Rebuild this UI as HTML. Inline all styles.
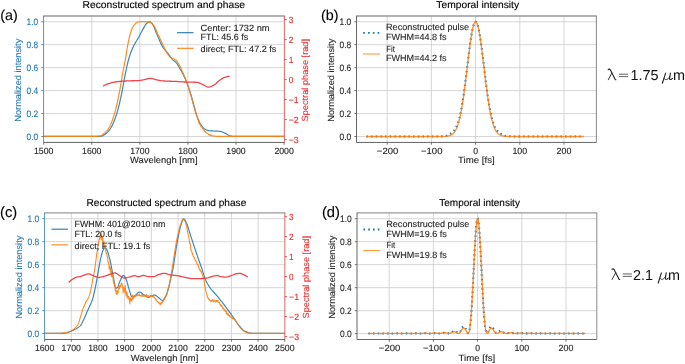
<!DOCTYPE html>
<html><head><meta charset="utf-8"><title>figure</title>
<style>
html,body{margin:0;padding:0;background:#fff;}
body{width:685px;height:364px;overflow:hidden;font-family:"Liberation Sans",sans-serif;}
svg{display:block;will-change:transform;}
svg text{font-family:"Liberation Sans",sans-serif;text-rendering:geometricPrecision;}
</style></head><body>
<svg width="685" height="364" viewBox="0 0 685 364">
<rect width="685" height="364" fill="#fff"/>
<line x1="43.70" y1="16.0" x2="43.70" y2="142.45" stroke="#cccccc" stroke-width="0.8"/>
<line x1="91.78" y1="16.0" x2="91.78" y2="142.45" stroke="#cccccc" stroke-width="0.8"/>
<line x1="139.86" y1="16.0" x2="139.86" y2="142.45" stroke="#cccccc" stroke-width="0.8"/>
<line x1="187.94" y1="16.0" x2="187.94" y2="142.45" stroke="#cccccc" stroke-width="0.8"/>
<line x1="236.02" y1="16.0" x2="236.02" y2="142.45" stroke="#cccccc" stroke-width="0.8"/>
<line x1="284.10" y1="16.0" x2="284.10" y2="142.45" stroke="#cccccc" stroke-width="0.8"/>
<line x1="43.5" y1="136.50" x2="284.5" y2="136.50" stroke="#cccccc" stroke-width="0.8"/>
<line x1="43.5" y1="113.55" x2="284.5" y2="113.55" stroke="#cccccc" stroke-width="0.8"/>
<line x1="43.5" y1="90.60" x2="284.5" y2="90.60" stroke="#cccccc" stroke-width="0.8"/>
<line x1="43.5" y1="67.65" x2="284.5" y2="67.65" stroke="#cccccc" stroke-width="0.8"/>
<line x1="43.5" y1="44.70" x2="284.5" y2="44.70" stroke="#cccccc" stroke-width="0.8"/>
<line x1="43.5" y1="21.75" x2="284.5" y2="21.75" stroke="#cccccc" stroke-width="0.8"/>
<path d="M43.70,136.40 L44.50,136.40 L45.31,136.40 L46.11,136.40 L46.92,136.40 L47.72,136.40 L48.52,136.40 L49.33,136.40 L50.13,136.40 L50.94,136.40 L51.74,136.40 L52.54,136.40 L53.35,136.40 L54.15,136.40 L54.96,136.40 L55.76,136.40 L56.56,136.40 L57.37,136.40 L58.17,136.40 L58.98,136.40 L59.78,136.40 L60.58,136.40 L61.39,136.40 L62.19,136.40 L63.00,136.40 L63.80,136.40 L64.60,136.40 L65.41,136.40 L66.21,136.40 L67.02,136.40 L67.82,136.40 L68.62,136.40 L69.43,136.40 L70.23,136.40 L71.04,136.40 L71.84,136.40 L72.64,136.40 L73.45,136.40 L74.25,136.40 L75.06,136.40 L75.86,136.40 L76.66,136.40 L77.47,136.40 L78.27,136.40 L79.08,136.40 L79.88,136.40 L80.68,136.40 L81.49,136.40 L82.29,136.40 L83.10,136.40 L83.90,136.40 L84.70,136.40 L85.51,136.40 L86.31,136.40 L87.12,136.40 L87.92,136.40 L88.72,136.40 L89.53,136.40 L90.33,136.40 L91.14,136.40 L91.94,136.40 L92.74,136.40 L93.55,136.40 L94.35,136.40 L95.16,136.40 L95.96,136.40 L96.76,136.38 L97.57,136.37 L98.37,136.34 L99.18,136.31 L99.98,136.27 L100.78,136.23 L101.59,136.17 L102.39,135.94 L103.20,135.54 L104.00,135.03 L104.81,134.43 L105.61,133.80 L106.41,133.17 L107.22,132.45 L108.02,131.62 L108.83,130.69 L109.63,129.65 L110.43,128.51 L111.24,127.25 L112.04,125.79 L112.85,124.12 L113.65,122.25 L114.45,120.21 L115.26,118.02 L116.06,115.69 L116.87,113.24 L117.67,110.61 L118.47,107.62 L119.28,104.32 L120.08,100.79 L120.89,97.08 L121.69,93.27 L122.49,89.33 L123.30,84.94 L124.10,80.36 L124.91,75.97 L125.71,72.04 L126.51,68.25 L127.32,64.61 L128.12,61.24 L128.93,58.24 L129.73,55.68 L130.53,53.36 L131.34,51.25 L132.14,49.30 L132.95,47.50 L133.75,45.81 L134.55,44.24 L135.36,42.84 L136.16,41.53 L136.97,40.25 L137.77,38.91 L138.57,37.45 L139.38,35.92 L140.18,34.35 L140.99,32.79 L141.79,31.27 L142.59,29.84 L143.40,28.38 L144.20,26.90 L145.01,25.52 L145.81,24.35 L146.61,23.50 L147.42,22.80 L148.22,22.20 L149.03,21.85 L149.83,21.86 L150.63,22.27 L151.44,22.94 L152.24,23.74 L153.05,24.87 L153.85,26.55 L154.65,28.57 L155.46,30.69 L156.26,32.69 L157.07,34.52 L157.87,36.43 L158.67,38.37 L159.48,40.29 L160.28,42.15 L161.09,43.89 L161.89,45.47 L162.69,46.85 L163.50,48.04 L164.30,49.10 L165.11,50.07 L165.91,51.01 L166.71,51.93 L167.52,52.89 L168.32,53.93 L169.13,55.04 L169.93,56.19 L170.73,57.32 L171.54,58.39 L172.34,59.33 L173.15,60.11 L173.95,60.75 L174.75,61.36 L175.56,62.05 L176.36,62.92 L177.17,63.98 L177.97,65.20 L178.77,66.53 L179.58,67.94 L180.38,69.39 L181.19,70.83 L181.99,72.30 L182.79,73.81 L183.60,75.39 L184.40,77.04 L185.21,78.77 L186.01,80.61 L186.81,82.58 L187.62,84.73 L188.42,87.04 L189.23,89.46 L190.03,91.95 L190.83,94.48 L191.64,97.11 L192.44,99.97 L193.25,103.00 L194.05,106.08 L194.85,109.12 L195.66,112.04 L196.46,114.72 L197.27,117.09 L198.07,119.08 L198.87,120.88 L199.68,122.51 L200.48,123.96 L201.29,125.21 L202.09,126.28 L202.89,127.29 L203.70,128.18 L204.50,128.90 L205.31,129.40 L206.11,129.76 L206.91,130.08 L207.72,130.34 L208.52,130.56 L209.33,130.71 L210.13,130.81 L210.93,130.88 L211.74,130.93 L212.54,130.97 L213.35,131.00 L214.15,131.03 L214.95,131.05 L215.76,131.07 L216.56,131.10 L217.37,131.13 L218.17,131.17 L218.97,131.23 L219.78,131.30 L220.58,131.43 L221.39,131.65 L222.19,131.95 L222.99,132.29 L223.80,132.66 L224.60,133.03 L225.41,133.39 L226.21,133.83 L227.02,134.32 L227.82,134.82 L228.62,135.28 L229.43,135.65 L230.23,135.89 L231.04,136.02 L231.84,136.15 L232.64,136.25 L233.45,136.33 L234.25,136.38 L235.06,136.40 L235.86,136.40 L236.66,136.40 L237.47,136.40 L238.27,136.40 L239.08,136.40 L239.88,136.40 L240.68,136.40 L241.49,136.40 L242.29,136.40 L243.10,136.40 L243.90,136.40 L244.70,136.40 L245.51,136.40 L246.31,136.40 L247.12,136.40 L247.92,136.40 L248.72,136.40 L249.53,136.40 L250.33,136.40 L251.14,136.40 L251.94,136.40 L252.74,136.40 L253.55,136.40 L254.35,136.40 L255.16,136.40 L255.96,136.40 L256.76,136.40 L257.57,136.40 L258.37,136.40 L259.18,136.40 L259.98,136.40 L260.78,136.40 L261.59,136.40 L262.39,136.40 L263.20,136.40 L264.00,136.40 L264.80,136.40 L265.61,136.40 L266.41,136.40 L267.22,136.40 L268.02,136.40 L268.82,136.40 L269.63,136.40 L270.43,136.40 L271.24,136.40 L272.04,136.40 L272.84,136.40 L273.65,136.40 L274.45,136.40 L275.26,136.40 L276.06,136.40 L276.86,136.40 L277.67,136.40 L278.47,136.40 L279.28,136.40 L280.08,136.40 L280.88,136.40 L281.69,136.40 L282.49,136.40 L283.30,136.40 L284.10,136.40" fill="none" stroke="#1f77b4" stroke-width="1.2" stroke-opacity="0.88" stroke-linejoin="round"/>
<path d="M43.70,136.40 L44.27,136.40 L44.85,136.40 L45.42,136.40 L45.99,136.40 L46.57,136.40 L47.14,136.40 L47.72,136.40 L48.29,136.40 L48.86,136.40 L49.44,136.40 L50.01,136.40 L50.58,136.40 L51.16,136.40 L51.73,136.40 L52.31,136.40 L52.88,136.40 L53.45,136.40 L54.03,136.40 L54.60,136.40 L55.17,136.40 L55.75,136.40 L56.32,136.40 L56.90,136.40 L57.47,136.40 L58.04,136.40 L58.62,136.40 L59.19,136.40 L59.76,136.40 L60.34,136.40 L60.91,136.40 L61.49,136.40 L62.06,136.40 L62.63,136.40 L63.21,136.40 L63.78,136.40 L64.35,136.40 L64.93,136.40 L65.50,136.40 L66.08,136.40 L66.65,136.40 L67.22,136.40 L67.80,136.40 L68.37,136.40 L68.94,136.40 L69.52,136.40 L70.09,136.40 L70.67,136.40 L71.24,136.40 L71.81,136.40 L72.39,136.40 L72.96,136.40 L73.53,136.40 L74.11,136.40 L74.68,136.40 L75.26,136.40 L75.83,136.40 L76.40,136.40 L76.98,136.40 L77.55,136.40 L78.12,136.40 L78.70,136.40 L79.27,136.40 L79.85,136.40 L80.42,136.40 L80.99,136.40 L81.57,136.40 L82.14,136.40 L82.71,136.40 L83.29,136.40 L83.86,136.40 L84.44,136.40 L85.01,136.40 L85.58,136.40 L86.16,136.40 L86.73,136.40 L87.30,136.40 L87.88,136.40 L88.45,136.40 L89.03,136.40 L89.60,136.40 L90.17,136.40 L90.75,136.40 L91.32,136.40 L91.89,136.40 L92.47,136.40 L93.04,136.40 L93.62,136.40 L94.19,136.39 L94.76,136.38 L95.34,136.36 L95.91,136.34 L96.48,136.31 L97.06,136.28 L97.63,136.24 L98.21,136.20 L98.78,136.15 L99.35,136.10 L99.93,136.01 L100.50,135.82 L101.07,135.55 L101.65,135.21 L102.22,134.83 L102.80,134.41 L103.37,133.98 L103.94,133.54 L104.52,133.09 L105.09,132.60 L105.66,132.05 L106.24,131.45 L106.81,130.81 L107.39,130.10 L107.96,129.34 L108.53,128.51 L109.11,127.63 L109.68,126.62 L110.25,125.46 L110.83,124.16 L111.40,122.74 L111.98,121.21 L112.55,119.59 L113.12,117.87 L113.70,116.09 L114.27,114.24 L114.84,112.35 L115.42,110.33 L115.99,108.13 L116.57,105.76 L117.14,103.26 L117.71,100.62 L118.29,97.88 L118.86,95.05 L119.43,92.15 L120.01,89.09 L120.58,85.68 L121.16,82.09 L121.73,78.50 L122.30,75.09 L122.88,72.01 L123.45,69.18 L124.02,66.44 L124.60,63.66 L125.17,60.70 L125.75,57.38 L126.32,53.71 L126.89,50.00 L127.47,46.55 L128.04,43.56 L128.61,40.69 L129.19,37.99 L129.76,35.56 L130.34,33.51 L130.91,31.81 L131.48,30.26 L132.06,28.84 L132.63,27.58 L133.20,26.49 L133.78,25.59 L134.35,24.86 L134.93,24.18 L135.50,23.54 L136.07,22.99 L136.65,22.53 L137.22,22.19 L137.79,22.00 L138.37,21.90 L138.94,21.80 L139.52,21.73 L140.09,21.67 L140.66,21.62 L141.24,21.60 L141.81,21.60 L142.38,21.62 L142.96,21.65 L143.53,21.69 L144.11,21.74 L144.68,21.79 L145.25,21.84 L145.83,21.89 L146.40,21.93 L146.97,21.97 L147.55,22.01 L148.12,22.05 L148.70,22.09 L149.27,22.15 L149.84,22.23 L150.42,22.33 L150.99,22.58 L151.56,23.01 L152.14,23.60 L152.71,24.28 L153.29,25.03 L153.86,25.81 L154.43,26.64 L155.01,27.66 L155.58,28.83 L156.15,30.10 L156.73,31.44 L157.30,32.79 L157.88,34.13 L158.45,35.39 L159.02,36.60 L159.60,37.82 L160.17,39.04 L160.74,40.26 L161.32,41.48 L161.89,42.68 L162.47,43.88 L163.04,45.06 L163.61,46.23 L164.19,47.42 L164.76,48.62 L165.33,49.82 L165.91,50.98 L166.48,52.09 L167.06,53.10 L167.63,53.99 L168.20,54.85 L168.78,55.67 L169.35,56.41 L169.92,57.04 L170.50,57.50 L171.07,57.82 L171.65,58.07 L172.22,58.28 L172.79,58.49 L173.37,58.73 L173.94,59.03 L174.51,59.34 L175.09,59.68 L175.66,60.07 L176.24,60.53 L176.81,61.14 L177.38,61.90 L177.96,62.77 L178.53,63.71 L179.10,64.68 L179.68,65.72 L180.25,66.86 L180.83,68.08 L181.40,69.35 L181.97,70.65 L182.55,71.97 L183.12,73.27 L183.69,74.58 L184.27,75.91 L184.84,77.27 L185.42,78.68 L185.99,80.14 L186.56,81.67 L187.14,83.29 L187.71,85.00 L188.28,86.77 L188.86,88.60 L189.43,90.46 L190.01,92.36 L190.58,94.26 L191.15,96.23 L191.73,98.26 L192.30,100.34 L192.87,102.44 L193.45,104.54 L194.02,107.32 L194.60,107.73 L195.17,110.71 L195.74,112.29 L196.32,114.22 L196.89,116.13 L197.46,117.22 L198.04,119.46 L198.61,120.82 L199.19,123.79 L199.76,124.08 L200.33,125.07 L200.91,126.09 L201.48,126.86 L202.05,127.55 L202.63,128.54 L203.20,129.55 L203.78,129.95 L204.35,130.98 L204.92,131.17 L205.50,131.81 L206.07,132.88 L206.64,133.02 L207.22,133.10 L207.79,133.61 L208.37,134.20 L208.94,135.02 L209.51,134.56 L210.09,134.85 L210.66,135.53 L211.23,135.08 L211.81,135.45 L212.38,135.99 L212.96,136.00 L213.53,135.94 L214.10,136.02 L214.68,136.11 L215.25,136.20 L215.82,136.27 L216.40,136.33 L216.97,136.37 L217.55,136.39 L218.12,136.40 L218.69,136.40 L219.27,136.40 L219.84,136.40 L220.41,136.40 L220.99,136.40 L221.56,136.40 L222.14,136.40 L222.71,136.40 L223.28,136.40 L223.86,136.40 L224.43,136.40 L225.00,136.40 L225.58,136.40 L226.15,136.40 L226.73,136.40 L227.30,136.40 L227.87,136.40 L228.45,136.40 L229.02,136.40 L229.59,136.40 L230.17,136.40 L230.74,136.40 L231.32,136.40 L231.89,136.40 L232.46,136.40 L233.04,136.40 L233.61,136.40 L234.18,136.40 L234.76,136.40 L235.33,136.40 L235.91,136.40 L236.48,136.40 L237.05,136.40 L237.63,136.40 L238.20,136.40 L238.77,136.40 L239.35,136.40 L239.92,136.40 L240.50,136.40 L241.07,136.40 L241.64,136.40 L242.22,136.40 L242.79,136.40 L243.36,136.40 L243.94,136.40 L244.51,136.40 L245.09,136.40 L245.66,136.40 L246.23,136.40 L246.81,136.40 L247.38,136.40 L247.95,136.40 L248.53,136.40 L249.10,136.40 L249.68,136.40 L250.25,136.40 L250.82,136.40 L251.40,136.40 L251.97,136.40 L252.54,136.40 L253.12,136.40 L253.69,136.40 L254.27,136.40 L254.84,136.40 L255.41,136.40 L255.99,136.40 L256.56,136.40 L257.13,136.40 L257.71,136.40 L258.28,136.40 L258.86,136.40 L259.43,136.40 L260.00,136.40 L260.58,136.40 L261.15,136.40 L261.72,136.40 L262.30,136.40 L262.87,136.40 L263.45,136.40 L264.02,136.40 L264.59,136.40 L265.17,136.40 L265.74,136.40 L266.31,136.40 L266.89,136.40 L267.46,136.40 L268.04,136.40 L268.61,136.40 L269.18,136.40 L269.76,136.40 L270.33,136.40 L270.90,136.40 L271.48,136.40 L272.05,136.40 L272.63,136.40 L273.20,136.40 L273.77,136.40 L274.35,136.40 L274.92,136.40 L275.49,136.40 L276.07,136.40 L276.64,136.40 L277.22,136.40 L277.79,136.40 L278.36,136.40 L278.94,136.40 L279.51,136.40 L280.08,136.40 L280.66,136.40 L281.23,136.40 L281.81,136.40 L282.38,136.40 L282.95,136.40 L283.53,136.40 L284.10,136.40" fill="none" stroke="#ff7f0e" stroke-width="1.2" stroke-opacity="0.9" stroke-linejoin="round"/>
<path d="M103.20,86.10 L103.99,85.65 L104.79,85.22 L105.58,84.82 L106.38,84.46 L107.17,84.13 L107.97,83.83 L108.76,83.54 L109.56,83.27 L110.35,83.02 L111.15,82.80 L111.94,82.61 L112.74,82.45 L113.53,82.29 L114.33,82.13 L115.12,81.99 L115.92,81.86 L116.71,81.74 L117.51,81.62 L118.30,81.52 L119.10,81.43 L119.89,81.35 L120.69,81.29 L121.48,81.23 L122.28,81.18 L123.07,81.13 L123.87,81.09 L124.66,81.05 L125.46,81.01 L126.25,80.98 L127.05,80.94 L127.84,80.91 L128.64,80.87 L129.43,80.84 L130.23,80.82 L131.02,80.80 L131.82,80.77 L132.61,80.75 L133.41,80.73 L134.20,80.71 L135.00,80.68 L135.79,80.66 L136.59,80.63 L137.38,80.59 L138.18,80.55 L138.97,80.50 L139.77,80.43 L140.56,80.33 L141.36,80.20 L142.15,80.06 L142.95,79.91 L143.74,79.74 L144.54,79.53 L145.33,79.31 L146.13,79.09 L146.92,78.91 L147.72,78.76 L148.51,78.60 L149.31,78.47 L150.10,78.40 L150.90,78.43 L151.69,78.53 L152.49,78.69 L153.28,78.86 L154.08,79.04 L154.87,79.27 L155.67,79.53 L156.46,79.77 L157.26,79.95 L158.05,80.12 L158.85,80.28 L159.64,80.43 L160.44,80.57 L161.23,80.70 L162.03,80.81 L162.82,80.90 L163.62,80.97 L164.41,81.02 L165.21,81.07 L166.00,81.10 L166.80,81.14 L167.59,81.17 L168.39,81.19 L169.18,81.21 L169.98,81.24 L170.77,81.26 L171.57,81.28 L172.36,81.30 L173.16,81.33 L173.95,81.36 L174.75,81.39 L175.54,81.43 L176.34,81.47 L177.13,81.51 L177.93,81.56 L178.72,81.61 L179.52,81.67 L180.31,81.72 L181.11,81.78 L181.90,81.83 L182.70,81.88 L183.49,81.93 L184.29,81.98 L185.08,82.02 L185.88,82.06 L186.67,82.09 L187.47,82.11 L188.26,82.13 L189.06,82.15 L189.85,82.16 L190.65,82.17 L191.44,82.18 L192.24,82.19 L193.03,82.20 L193.83,82.21 L194.62,82.23 L195.42,82.25 L196.21,82.28 L197.01,82.32 L197.80,82.47 L198.60,82.72 L199.39,83.04 L200.19,83.39 L200.98,83.76 L201.78,84.11 L202.57,84.45 L203.37,84.86 L204.16,85.31 L204.96,85.78 L205.75,86.22 L206.55,86.61 L207.34,86.90 L208.14,87.07 L208.93,87.09 L209.73,86.96 L210.52,86.72 L211.32,86.40 L212.11,86.01 L212.91,85.59 L213.70,85.16 L214.50,84.71 L215.29,84.13 L216.09,83.45 L216.88,82.72 L217.68,81.96 L218.47,81.22 L219.27,80.54 L220.06,79.96 L220.86,79.43 L221.65,78.90 L222.45,78.40 L223.24,77.94 L224.04,77.55 L224.83,77.25 L225.63,77.02 L226.42,76.81 L227.22,76.62 L228.01,76.46 L228.81,76.35 L229.60,76.30" fill="none" stroke="#f0353c" stroke-width="1.3" stroke-opacity="0.92" stroke-linejoin="round"/>
<line x1="177" y1="32.7" x2="193.6" y2="32.7" stroke="#1f77b4" stroke-width="1.1"/>
<line x1="177" y1="48.3" x2="193.6" y2="48.3" stroke="#ff7f0e" stroke-width="1.1"/>
<text x="200.6" y="30.7" font-size="9.0" fill="#262626" stroke="#262626" stroke-width="0.12" textLength="69" lengthAdjust="spacingAndGlyphs">Center: 1732 nm</text>
<text x="200.6" y="39.9" font-size="9.0" fill="#262626" stroke="#262626" stroke-width="0.12" textLength="47.5" lengthAdjust="spacingAndGlyphs">FTL: 45.6 fs</text>
<text x="200.6" y="51.8" font-size="9.0" fill="#262626" stroke="#262626" stroke-width="0.12" textLength="75.8" lengthAdjust="spacingAndGlyphs">direct; FTL: 47.2 fs</text>
<line x1="43.1" y1="16.0" x2="284.9" y2="16.0" stroke="#999" stroke-width="1.3"/>
<line x1="43.5" y1="142.45" x2="284.5" y2="142.45" stroke="#555555" stroke-width="0.9"/>
<line x1="43.5" y1="16.0" x2="43.5" y2="142.45" stroke="#1f77b4" stroke-width="0.65"/>
<line x1="284.5" y1="16.0" x2="284.5" y2="142.45" stroke="#ee2c2c" stroke-width="0.6"/>
<line x1="43.70" y1="142.45" x2="43.70" y2="144.75" stroke="#555555" stroke-width="0.8"/>
<text x="43.7" y="153.8" font-size="9.0" fill="#262626" stroke="#262626" stroke-width="0.12" text-anchor="middle" textLength="19.4" lengthAdjust="spacingAndGlyphs">1500</text>
<line x1="91.78" y1="142.45" x2="91.78" y2="144.75" stroke="#555555" stroke-width="0.8"/>
<text x="91.78" y="153.8" font-size="9.0" fill="#262626" stroke="#262626" stroke-width="0.12" text-anchor="middle" textLength="19.4" lengthAdjust="spacingAndGlyphs">1600</text>
<line x1="139.86" y1="142.45" x2="139.86" y2="144.75" stroke="#555555" stroke-width="0.8"/>
<text x="139.86" y="153.8" font-size="9.0" fill="#262626" stroke="#262626" stroke-width="0.12" text-anchor="middle" textLength="19.4" lengthAdjust="spacingAndGlyphs">1700</text>
<line x1="187.94" y1="142.45" x2="187.94" y2="144.75" stroke="#555555" stroke-width="0.8"/>
<text x="187.94" y="153.8" font-size="9.0" fill="#262626" stroke="#262626" stroke-width="0.12" text-anchor="middle" textLength="19.4" lengthAdjust="spacingAndGlyphs">1800</text>
<line x1="236.02" y1="142.45" x2="236.02" y2="144.75" stroke="#555555" stroke-width="0.8"/>
<text x="236.02" y="153.8" font-size="9.0" fill="#262626" stroke="#262626" stroke-width="0.12" text-anchor="middle" textLength="19.4" lengthAdjust="spacingAndGlyphs">1900</text>
<line x1="284.10" y1="142.45" x2="284.10" y2="144.75" stroke="#555555" stroke-width="0.8"/>
<text x="284.1" y="153.8" font-size="9.0" fill="#262626" stroke="#262626" stroke-width="0.12" text-anchor="middle" textLength="19.4" lengthAdjust="spacingAndGlyphs">2000</text>
<line x1="41.3" y1="136.50" x2="43.5" y2="136.50" stroke="#1f77b4" stroke-width="0.8"/>
<text x="38.3" y="140.2" font-size="9.3" fill="#1f77b4" stroke="#1f77b4" stroke-width="0.12" text-anchor="end" textLength="11.7" lengthAdjust="spacingAndGlyphs">0.0</text>
<line x1="41.3" y1="113.55" x2="43.5" y2="113.55" stroke="#1f77b4" stroke-width="0.8"/>
<text x="38.3" y="117.25" font-size="9.3" fill="#1f77b4" stroke="#1f77b4" stroke-width="0.12" text-anchor="end" textLength="11.7" lengthAdjust="spacingAndGlyphs">0.2</text>
<line x1="41.3" y1="90.60" x2="43.5" y2="90.60" stroke="#1f77b4" stroke-width="0.8"/>
<text x="38.3" y="94.3" font-size="9.3" fill="#1f77b4" stroke="#1f77b4" stroke-width="0.12" text-anchor="end" textLength="11.7" lengthAdjust="spacingAndGlyphs">0.4</text>
<line x1="41.3" y1="67.65" x2="43.5" y2="67.65" stroke="#1f77b4" stroke-width="0.8"/>
<text x="38.3" y="71.35" font-size="9.3" fill="#1f77b4" stroke="#1f77b4" stroke-width="0.12" text-anchor="end" textLength="11.7" lengthAdjust="spacingAndGlyphs">0.6</text>
<line x1="41.3" y1="44.70" x2="43.5" y2="44.70" stroke="#1f77b4" stroke-width="0.8"/>
<text x="38.3" y="48.4" font-size="9.3" fill="#1f77b4" stroke="#1f77b4" stroke-width="0.12" text-anchor="end" textLength="11.7" lengthAdjust="spacingAndGlyphs">0.8</text>
<line x1="41.3" y1="21.75" x2="43.5" y2="21.75" stroke="#1f77b4" stroke-width="0.8"/>
<text x="38.3" y="25.45" font-size="9.3" fill="#1f77b4" stroke="#1f77b4" stroke-width="0.12" text-anchor="end" textLength="11.7" lengthAdjust="spacingAndGlyphs">1.0</text>
<line x1="284.5" y1="139.50" x2="286.8" y2="139.50" stroke="#ee2c2c" stroke-width="0.8"/>
<text x="288.7" y="142.8" font-size="9.0" fill="#ee2c2c" stroke="#ee2c2c" stroke-width="0.12" textLength="10.0" lengthAdjust="spacingAndGlyphs">−3</text>
<line x1="284.5" y1="119.52" x2="286.8" y2="119.52" stroke="#ee2c2c" stroke-width="0.8"/>
<text x="288.7" y="122.82" font-size="9.0" fill="#ee2c2c" stroke="#ee2c2c" stroke-width="0.12" textLength="10.0" lengthAdjust="spacingAndGlyphs">−2</text>
<line x1="284.5" y1="99.53" x2="286.8" y2="99.53" stroke="#ee2c2c" stroke-width="0.8"/>
<text x="288.7" y="102.83" font-size="9.0" fill="#ee2c2c" stroke="#ee2c2c" stroke-width="0.12" textLength="10.0" lengthAdjust="spacingAndGlyphs">−1</text>
<line x1="284.5" y1="79.55" x2="286.8" y2="79.55" stroke="#ee2c2c" stroke-width="0.8"/>
<text x="288.7" y="82.85" font-size="9.0" fill="#ee2c2c" stroke="#ee2c2c" stroke-width="0.12" textLength="4.6" lengthAdjust="spacingAndGlyphs">0</text>
<line x1="284.5" y1="59.57" x2="286.8" y2="59.57" stroke="#ee2c2c" stroke-width="0.8"/>
<text x="288.7" y="62.87" font-size="9.0" fill="#ee2c2c" stroke="#ee2c2c" stroke-width="0.12" textLength="4.6" lengthAdjust="spacingAndGlyphs">1</text>
<line x1="284.5" y1="39.58" x2="286.8" y2="39.58" stroke="#ee2c2c" stroke-width="0.8"/>
<text x="288.7" y="42.88" font-size="9.0" fill="#ee2c2c" stroke="#ee2c2c" stroke-width="0.12" textLength="4.6" lengthAdjust="spacingAndGlyphs">2</text>
<line x1="284.5" y1="19.60" x2="286.8" y2="19.60" stroke="#ee2c2c" stroke-width="0.8"/>
<text x="288.7" y="22.9" font-size="9.0" fill="#ee2c2c" stroke="#ee2c2c" stroke-width="0.12" textLength="4.6" lengthAdjust="spacingAndGlyphs">3</text>
<text x="308.2" y="80.22" font-size="8.9" fill="#ee2c2c" stroke="#ee2c2c" stroke-width="0.1" text-anchor="middle" textLength="82.5" lengthAdjust="spacingAndGlyphs" transform="rotate(-90 308.2 80.22)">Spectral phase [rad]</text>
<text x="21.1" y="80.22" font-size="8.9" fill="#1f77b4" stroke="#1f77b4" stroke-width="0.1" text-anchor="middle" textLength="83" lengthAdjust="spacingAndGlyphs" transform="rotate(-90 21.1 80.22)">Normalized intensity</text>
<text x="163.8" y="163.25" font-size="9.0" fill="#262626" stroke="#262626" stroke-width="0.12" text-anchor="middle" textLength="67.5" lengthAdjust="spacingAndGlyphs">Wavelengh [nm]</text>
<text x="163.8" y="7.5" font-size="10.0" fill="#000" stroke="#000" stroke-width="0.12" text-anchor="middle" textLength="162.5" lengthAdjust="spacingAndGlyphs">Reconstructed spectrum and phase</text>
<text x="0.2" y="19.9" font-size="14.3" fill="#000" stroke="#000" stroke-width="0.12">(a)</text>
<line x1="387.20" y1="16.0" x2="387.20" y2="142.45" stroke="#cccccc" stroke-width="0.8"/>
<line x1="431.40" y1="16.0" x2="431.40" y2="142.45" stroke="#cccccc" stroke-width="0.8"/>
<line x1="475.60" y1="16.0" x2="475.60" y2="142.45" stroke="#cccccc" stroke-width="0.8"/>
<line x1="519.80" y1="16.0" x2="519.80" y2="142.45" stroke="#cccccc" stroke-width="0.8"/>
<line x1="564.00" y1="16.0" x2="564.00" y2="142.45" stroke="#cccccc" stroke-width="0.8"/>
<line x1="356.5" y1="136.50" x2="596.4" y2="136.50" stroke="#cccccc" stroke-width="0.8"/>
<line x1="356.5" y1="113.55" x2="596.4" y2="113.55" stroke="#cccccc" stroke-width="0.8"/>
<line x1="356.5" y1="90.60" x2="596.4" y2="90.60" stroke="#cccccc" stroke-width="0.8"/>
<line x1="356.5" y1="67.65" x2="596.4" y2="67.65" stroke="#cccccc" stroke-width="0.8"/>
<line x1="356.5" y1="44.70" x2="596.4" y2="44.70" stroke="#cccccc" stroke-width="0.8"/>
<line x1="356.5" y1="21.75" x2="596.4" y2="21.75" stroke="#cccccc" stroke-width="0.8"/>
<path d="M366.43,136.45 L366.79,136.45 L367.15,136.45 L367.52,136.45 L367.88,136.45 L368.24,136.45 L368.60,136.45 L368.97,136.45 L369.33,136.45 L369.69,136.45 L370.06,136.45 L370.42,136.45 L370.78,136.45 L371.15,136.45 L371.51,136.45 L371.87,136.45 L372.23,136.45 L372.60,136.45 L372.96,136.45 L373.32,136.45 L373.69,136.45 L374.05,136.45 L374.41,136.45 L374.78,136.45 L375.14,136.45 L375.50,136.45 L375.87,136.45 L376.23,136.45 L376.59,136.45 L376.95,136.45 L377.32,136.45 L377.68,136.45 L378.04,136.45 L378.41,136.45 L378.77,136.45 L379.13,136.45 L379.50,136.45 L379.86,136.45 L380.22,136.45 L380.58,136.45 L380.95,136.45 L381.31,136.45 L381.67,136.45 L382.04,136.45 L382.40,136.45 L382.76,136.45 L383.13,136.45 L383.49,136.45 L383.85,136.45 L384.22,136.45 L384.58,136.45 L384.94,136.45 L385.30,136.45 L385.67,136.45 L386.03,136.45 L386.39,136.45 L386.76,136.45 L387.12,136.45 L387.48,136.45 L387.85,136.45 L388.21,136.45 L388.57,136.45 L388.93,136.45 L389.30,136.45 L389.66,136.45 L390.02,136.45 L390.39,136.45 L390.75,136.45 L391.11,136.45 L391.48,136.45 L391.84,136.45 L392.20,136.45 L392.57,136.45 L392.93,136.45 L393.29,136.45 L393.65,136.45 L394.02,136.45 L394.38,136.45 L394.74,136.45 L395.11,136.45 L395.47,136.45 L395.83,136.45 L396.20,136.45 L396.56,136.45 L396.92,136.45 L397.28,136.45 L397.65,136.45 L398.01,136.45 L398.37,136.45 L398.74,136.45 L399.10,136.45 L399.46,136.45 L399.83,136.45 L400.19,136.45 L400.55,136.45 L400.92,136.45 L401.28,136.45 L401.64,136.45 L402.00,136.45 L402.37,136.45 L402.73,136.45 L403.09,136.45 L403.46,136.45 L403.82,136.45 L404.18,136.45 L404.55,136.45 L404.91,136.45 L405.27,136.45 L405.63,136.45 L406.00,136.45 L406.36,136.45 L406.72,136.45 L407.09,136.45 L407.45,136.45 L407.81,136.45 L408.18,136.45 L408.54,136.45 L408.90,136.45 L409.27,136.45 L409.63,136.45 L409.99,136.45 L410.35,136.45 L410.72,136.45 L411.08,136.45 L411.44,136.45 L411.81,136.45 L412.17,136.45 L412.53,136.45 L412.90,136.45 L413.26,136.45 L413.62,136.45 L413.98,136.45 L414.35,136.45 L414.71,136.45 L415.07,136.45 L415.44,136.45 L415.80,136.45 L416.16,136.45 L416.53,136.45 L416.89,136.45 L417.25,136.45 L417.62,136.45 L417.98,136.45 L418.34,136.45 L418.70,136.45 L419.07,136.45 L419.43,136.45 L419.79,136.45 L420.16,136.45 L420.52,136.45 L420.88,136.45 L421.25,136.45 L421.61,136.45 L421.97,136.45 L422.33,136.45 L422.70,136.45 L423.06,136.45 L423.42,136.45 L423.79,136.45 L424.15,136.45 L424.51,136.45 L424.88,136.45 L425.24,136.45 L425.60,136.45 L425.97,136.45 L426.33,136.45 L426.69,136.45 L427.05,136.45 L427.42,136.45 L427.78,136.45 L428.14,136.45 L428.51,136.45 L428.87,136.45 L429.23,136.45 L429.60,136.45 L429.96,136.45 L430.32,136.45 L430.68,136.45 L431.05,136.45 L431.41,136.45 L431.77,136.45 L432.14,136.45 L432.50,136.45 L432.86,136.45 L433.23,136.45 L433.59,136.45 L433.95,136.45 L434.32,136.45 L434.68,136.45 L435.04,136.45 L435.40,136.45 L435.77,136.45 L436.13,136.45 L436.49,136.45 L436.86,136.45 L437.22,136.45 L437.58,136.45 L437.95,136.44 L438.31,136.44 L438.67,136.44 L439.04,136.44 L439.40,136.44 L439.76,136.43 L440.12,136.43 L440.49,136.42 L440.85,136.41 L441.21,136.41 L441.58,136.40 L441.94,136.38 L442.30,136.37 L442.67,136.35 L443.03,136.32 L443.39,136.29 L443.75,136.26 L444.12,136.21 L444.48,136.16 L444.84,136.11 L445.21,136.04 L445.57,135.96 L445.93,135.87 L446.30,135.77 L446.66,135.66 L447.02,135.53 L447.39,135.39 L447.75,135.23 L448.11,135.07 L448.47,134.88 L448.84,134.69 L449.20,134.48 L449.56,134.26 L449.93,134.03 L450.29,133.79 L450.65,133.54 L451.02,133.28 L451.38,133.01 L451.74,132.73 L452.10,132.43 L452.47,132.12 L452.83,131.80 L453.19,131.45 L453.56,131.09 L453.92,130.70 L454.28,130.28 L454.65,129.82 L455.01,129.32 L455.37,128.78 L455.74,128.19 L456.10,127.54 L456.46,126.83 L456.82,126.05 L457.19,125.20 L457.55,124.27 L457.91,123.26 L458.28,122.16 L458.64,120.97 L459.00,119.69 L459.37,118.32 L459.73,116.85 L460.09,115.27 L460.45,113.60 L460.82,111.83 L461.18,109.96 L461.54,107.98 L461.91,105.91 L462.27,103.74 L462.63,101.47 L463.00,99.11 L463.36,96.66 L463.72,94.13 L464.09,91.52 L464.45,88.83 L464.81,86.08 L465.17,83.26 L465.54,80.39 L465.90,77.48 L466.26,74.52 L466.63,71.54 L466.99,68.55 L467.35,65.54 L467.72,62.55 L468.08,59.57 L468.44,56.61 L468.80,53.70 L469.17,50.84 L469.53,48.05 L469.89,45.34 L470.26,42.72 L470.62,40.20 L470.98,37.80 L471.35,35.53 L471.71,33.39 L472.07,31.41 L472.44,29.59 L472.80,27.94 L473.16,26.47 L473.52,25.19 L473.89,24.10 L474.25,23.22 L474.61,22.54 L474.98,22.06 L475.34,21.81 L475.70,21.76 L476.07,21.93 L476.43,22.31 L476.79,22.90 L477.15,23.69 L477.52,24.69 L477.88,25.89 L478.24,27.28 L478.61,28.85 L478.97,30.60 L479.33,32.51 L479.70,34.58 L480.06,36.79 L480.42,39.14 L480.79,41.61 L481.15,44.19 L481.51,46.86 L481.87,49.62 L482.24,52.45 L482.60,55.34 L482.96,58.28 L483.33,61.25 L483.69,64.24 L484.05,67.24 L484.42,70.24 L484.78,73.23 L485.14,76.20 L485.50,79.13 L485.87,82.02 L486.23,84.86 L486.59,87.64 L486.96,90.36 L487.32,93.01 L487.68,95.57 L488.05,98.06 L488.41,100.46 L488.77,102.76 L489.14,104.98 L489.50,107.09 L489.86,109.11 L490.22,111.03 L490.59,112.84 L490.95,114.56 L491.31,116.17 L491.68,117.69 L492.04,119.11 L492.40,120.43 L492.77,121.66 L493.13,122.79 L493.49,123.84 L493.85,124.80 L494.22,125.69 L494.58,126.50 L494.94,127.24 L495.31,127.91 L495.67,128.53 L496.03,129.09 L496.40,129.61 L496.76,130.08 L497.12,130.52 L497.49,130.92 L497.85,131.30 L498.21,131.65 L498.57,131.98 L498.94,132.30 L499.30,132.60 L499.66,132.89 L500.03,133.16 L500.39,133.43 L500.75,133.69 L501.12,133.93 L501.48,134.17 L501.84,134.39 L502.20,134.60 L502.57,134.80 L502.93,134.99 L503.29,135.16 L503.66,135.32 L504.02,135.47 L504.38,135.60 L504.75,135.72 L505.11,135.83 L505.47,135.92 L505.84,136.01 L506.20,136.08 L506.56,136.14 L506.92,136.19 L507.29,136.24 L507.65,136.28 L508.01,136.31 L508.38,136.34 L508.74,136.36 L509.10,136.38 L509.47,136.39 L509.83,136.40 L510.19,136.41 L510.55,136.42 L510.92,136.43 L511.28,136.43 L511.64,136.43 L512.01,136.44 L512.37,136.44 L512.73,136.44 L513.10,136.44 L513.46,136.44 L513.82,136.45 L514.19,136.45 L514.55,136.45 L514.91,136.45 L515.27,136.45 L515.64,136.45 L516.00,136.45 L516.36,136.45 L516.73,136.45 L517.09,136.45 L517.45,136.45 L517.82,136.45 L518.18,136.45 L518.54,136.45 L518.90,136.45 L519.27,136.45 L519.63,136.45 L519.99,136.45 L520.36,136.45 L520.72,136.45 L521.08,136.45 L521.45,136.45 L521.81,136.45 L522.17,136.45 L522.54,136.45 L522.90,136.45 L523.26,136.45 L523.62,136.45 L523.99,136.45 L524.35,136.45 L524.71,136.45 L525.08,136.45 L525.44,136.45 L525.80,136.45 L526.17,136.45 L526.53,136.45 L526.89,136.45 L527.25,136.45 L527.62,136.45 L527.98,136.45 L528.34,136.45 L528.71,136.45 L529.07,136.45 L529.43,136.45 L529.80,136.45 L530.16,136.45 L530.52,136.45 L530.89,136.45 L531.25,136.45 L531.61,136.45 L531.97,136.45 L532.34,136.45 L532.70,136.45 L533.06,136.45 L533.43,136.45 L533.79,136.45 L534.15,136.45 L534.52,136.45 L534.88,136.45 L535.24,136.45 L535.61,136.45 L535.97,136.45 L536.33,136.45 L536.69,136.45 L537.06,136.45 L537.42,136.45 L537.78,136.45 L538.15,136.45 L538.51,136.45 L538.87,136.45 L539.24,136.45 L539.60,136.45 L539.96,136.45 L540.32,136.45 L540.69,136.45 L541.05,136.45 L541.41,136.45 L541.78,136.45 L542.14,136.45 L542.50,136.45 L542.87,136.45 L543.23,136.45 L543.59,136.45 L543.96,136.45 L544.32,136.45 L544.68,136.45 L545.04,136.45 L545.41,136.45 L545.77,136.45 L546.13,136.45 L546.50,136.45 L546.86,136.45 L547.22,136.45 L547.59,136.45 L547.95,136.45 L548.31,136.45 L548.67,136.45 L549.04,136.45 L549.40,136.45 L549.76,136.45 L550.13,136.45 L550.49,136.45 L550.85,136.45 L551.22,136.45 L551.58,136.45 L551.94,136.45 L552.31,136.45 L552.67,136.45 L553.03,136.45 L553.39,136.45 L553.76,136.45 L554.12,136.45 L554.48,136.45 L554.85,136.45 L555.21,136.45 L555.57,136.45 L555.94,136.45 L556.30,136.45 L556.66,136.45 L557.02,136.45 L557.39,136.45 L557.75,136.45 L558.11,136.45 L558.48,136.45 L558.84,136.45 L559.20,136.45 L559.57,136.45 L559.93,136.45 L560.29,136.45 L560.66,136.45 L561.02,136.45 L561.38,136.45 L561.74,136.45 L562.11,136.45 L562.47,136.45 L562.83,136.45 L563.20,136.45 L563.56,136.45 L563.92,136.45 L564.29,136.45 L564.65,136.45 L565.01,136.45 L565.37,136.45 L565.74,136.45 L566.10,136.45 L566.46,136.45 L566.83,136.45 L567.19,136.45 L567.55,136.45 L567.92,136.45 L568.28,136.45 L568.64,136.45 L569.01,136.45 L569.37,136.45 L569.73,136.45 L570.09,136.45 L570.46,136.45 L570.82,136.45 L571.18,136.45 L571.55,136.45 L571.91,136.45 L572.27,136.45 L572.64,136.45 L573.00,136.45 L573.36,136.45 L573.72,136.45 L574.09,136.45 L574.45,136.45 L574.81,136.45 L575.18,136.45 L575.54,136.45 L575.90,136.45 L576.27,136.45 L576.63,136.45 L576.99,136.45 L577.36,136.45 L577.72,136.45 L578.08,136.45 L578.44,136.45 L578.81,136.45 L579.17,136.45 L579.53,136.45 L579.90,136.45 L580.26,136.45 L580.62,136.45 L580.99,136.45 L581.35,136.45 L581.71,136.45 L582.07,136.45 L582.44,136.45 L582.80,136.45 L583.16,136.45 L583.53,136.45 L583.89,136.45" fill="none" stroke="#1f77b4" stroke-width="2.1" stroke-dasharray="1.5 3.17"/>
<path d="M366.43,136.45 L366.79,136.45 L367.15,136.45 L367.52,136.45 L367.88,136.45 L368.24,136.45 L368.60,136.45 L368.97,136.45 L369.33,136.45 L369.69,136.45 L370.06,136.45 L370.42,136.45 L370.78,136.45 L371.15,136.45 L371.51,136.45 L371.87,136.45 L372.23,136.45 L372.60,136.45 L372.96,136.45 L373.32,136.45 L373.69,136.45 L374.05,136.45 L374.41,136.45 L374.78,136.45 L375.14,136.45 L375.50,136.45 L375.87,136.45 L376.23,136.45 L376.59,136.45 L376.95,136.45 L377.32,136.45 L377.68,136.45 L378.04,136.45 L378.41,136.45 L378.77,136.45 L379.13,136.45 L379.50,136.45 L379.86,136.45 L380.22,136.45 L380.58,136.45 L380.95,136.45 L381.31,136.45 L381.67,136.45 L382.04,136.45 L382.40,136.45 L382.76,136.45 L383.13,136.45 L383.49,136.45 L383.85,136.45 L384.22,136.45 L384.58,136.45 L384.94,136.45 L385.30,136.45 L385.67,136.45 L386.03,136.45 L386.39,136.45 L386.76,136.45 L387.12,136.45 L387.48,136.45 L387.85,136.45 L388.21,136.45 L388.57,136.45 L388.93,136.45 L389.30,136.45 L389.66,136.45 L390.02,136.45 L390.39,136.45 L390.75,136.45 L391.11,136.45 L391.48,136.45 L391.84,136.45 L392.20,136.45 L392.57,136.45 L392.93,136.45 L393.29,136.45 L393.65,136.45 L394.02,136.45 L394.38,136.45 L394.74,136.45 L395.11,136.45 L395.47,136.45 L395.83,136.45 L396.20,136.45 L396.56,136.45 L396.92,136.45 L397.28,136.45 L397.65,136.45 L398.01,136.45 L398.37,136.45 L398.74,136.45 L399.10,136.45 L399.46,136.45 L399.83,136.45 L400.19,136.45 L400.55,136.45 L400.92,136.45 L401.28,136.45 L401.64,136.45 L402.00,136.45 L402.37,136.45 L402.73,136.45 L403.09,136.45 L403.46,136.45 L403.82,136.45 L404.18,136.45 L404.55,136.45 L404.91,136.45 L405.27,136.45 L405.63,136.45 L406.00,136.45 L406.36,136.45 L406.72,136.45 L407.09,136.45 L407.45,136.45 L407.81,136.45 L408.18,136.45 L408.54,136.45 L408.90,136.45 L409.27,136.45 L409.63,136.45 L409.99,136.45 L410.35,136.45 L410.72,136.45 L411.08,136.45 L411.44,136.45 L411.81,136.45 L412.17,136.45 L412.53,136.45 L412.90,136.45 L413.26,136.45 L413.62,136.45 L413.98,136.45 L414.35,136.45 L414.71,136.45 L415.07,136.45 L415.44,136.45 L415.80,136.45 L416.16,136.45 L416.53,136.45 L416.89,136.45 L417.25,136.45 L417.62,136.45 L417.98,136.45 L418.34,136.45 L418.70,136.45 L419.07,136.45 L419.43,136.45 L419.79,136.45 L420.16,136.45 L420.52,136.45 L420.88,136.45 L421.25,136.45 L421.61,136.45 L421.97,136.45 L422.33,136.45 L422.70,136.45 L423.06,136.45 L423.42,136.45 L423.79,136.45 L424.15,136.45 L424.51,136.45 L424.88,136.45 L425.24,136.45 L425.60,136.45 L425.97,136.45 L426.33,136.45 L426.69,136.45 L427.05,136.45 L427.42,136.45 L427.78,136.45 L428.14,136.45 L428.51,136.45 L428.87,136.45 L429.23,136.45 L429.60,136.45 L429.96,136.45 L430.32,136.45 L430.68,136.45 L431.05,136.45 L431.41,136.45 L431.77,136.45 L432.14,136.45 L432.50,136.45 L432.86,136.45 L433.23,136.45 L433.59,136.45 L433.95,136.45 L434.32,136.45 L434.68,136.45 L435.04,136.45 L435.40,136.45 L435.77,136.45 L436.13,136.45 L436.49,136.45 L436.86,136.45 L437.22,136.45 L437.58,136.45 L437.95,136.45 L438.31,136.45 L438.67,136.44 L439.04,136.44 L439.40,136.44 L439.76,136.44 L440.12,136.44 L440.49,136.44 L440.85,136.43 L441.21,136.43 L441.58,136.42 L441.94,136.42 L442.30,136.41 L442.67,136.41 L443.03,136.40 L443.39,136.39 L443.75,136.38 L444.12,136.36 L444.48,136.35 L444.84,136.33 L445.21,136.31 L445.57,136.29 L445.93,136.26 L446.30,136.23 L446.66,136.19 L447.02,136.15 L447.39,136.10 L447.75,136.04 L448.11,135.98 L448.47,135.90 L448.84,135.82 L449.20,135.72 L449.56,135.62 L449.93,135.49 L450.29,135.36 L450.65,135.20 L451.02,135.03 L451.38,134.83 L451.74,134.61 L452.10,134.37 L452.47,134.10 L452.83,133.80 L453.19,133.46 L453.56,133.09 L453.92,132.68 L454.28,132.22 L454.65,131.73 L455.01,131.18 L455.37,130.58 L455.74,129.92 L456.10,129.21 L456.46,128.43 L456.82,127.59 L457.19,126.68 L457.55,125.69 L457.91,124.63 L458.28,123.49 L458.64,122.26 L459.00,120.95 L459.37,119.54 L459.73,118.05 L460.09,116.46 L460.45,114.78 L460.82,113.00 L461.18,111.12 L461.54,109.15 L461.91,107.07 L462.27,104.90 L462.63,102.64 L463.00,100.28 L463.36,97.83 L463.72,95.29 L464.09,92.67 L464.45,89.98 L464.81,87.21 L465.17,84.37 L465.54,81.48 L465.90,78.54 L466.26,75.56 L466.63,72.55 L466.99,69.51 L467.35,66.47 L467.72,63.43 L468.08,60.40 L468.44,57.40 L468.80,54.44 L469.17,51.53 L469.53,48.68 L469.89,45.91 L470.26,43.23 L470.62,40.66 L470.98,38.20 L471.35,35.88 L471.71,33.70 L472.07,31.67 L472.44,29.80 L472.80,28.11 L473.16,26.60 L473.52,25.28 L473.89,24.17 L474.25,23.26 L474.61,22.56 L474.98,22.07 L475.34,21.81 L475.70,21.76 L476.07,21.93 L476.43,22.32 L476.79,22.93 L477.15,23.75 L477.52,24.77 L477.88,26.00 L478.24,27.43 L478.61,29.04 L478.97,30.83 L479.33,32.79 L479.70,34.91 L480.06,37.18 L480.42,39.58 L480.79,42.10 L481.15,44.73 L481.51,47.46 L481.87,50.28 L482.24,53.16 L482.60,56.11 L482.96,59.09 L483.33,62.11 L483.69,65.15 L484.05,68.19 L484.42,71.23 L484.78,74.25 L485.14,77.25 L485.50,80.21 L485.87,83.12 L486.23,85.98 L486.59,88.78 L486.96,91.51 L487.32,94.16 L487.68,96.74 L488.05,99.22 L488.41,101.62 L488.77,103.93 L489.14,106.14 L489.50,108.26 L489.86,110.27 L490.22,112.19 L490.59,114.02 L490.95,115.74 L491.31,117.37 L491.68,118.90 L492.04,120.35 L492.40,121.70 L492.77,122.96 L493.13,124.14 L493.49,125.24 L493.85,126.26 L494.22,127.20 L494.58,128.08 L494.94,128.88 L495.31,129.62 L495.67,130.30 L496.03,130.92 L496.40,131.49 L496.76,132.01 L497.12,132.49 L497.49,132.91 L497.85,133.30 L498.21,133.65 L498.57,133.97 L498.94,134.26 L499.30,134.51 L499.66,134.74 L500.03,134.95 L500.39,135.13 L500.75,135.29 L501.12,135.44 L501.48,135.57 L501.84,135.68 L502.20,135.78 L502.57,135.87 L502.93,135.95 L503.29,136.01 L503.66,136.07 L504.02,136.13 L504.38,136.17 L504.75,136.21 L505.11,136.24 L505.47,136.27 L505.84,136.30 L506.20,136.32 L506.56,136.34 L506.92,136.36 L507.29,136.37 L507.65,136.38 L508.01,136.39 L508.38,136.40 L508.74,136.41 L509.10,136.42 L509.47,136.42 L509.83,136.43 L510.19,136.43 L510.55,136.43 L510.92,136.44 L511.28,136.44 L511.64,136.44 L512.01,136.44 L512.37,136.44 L512.73,136.44 L513.10,136.45 L513.46,136.45 L513.82,136.45 L514.19,136.45 L514.55,136.45 L514.91,136.45 L515.27,136.45 L515.64,136.45 L516.00,136.45 L516.36,136.45 L516.73,136.45 L517.09,136.45 L517.45,136.45 L517.82,136.45 L518.18,136.45 L518.54,136.45 L518.90,136.45 L519.27,136.45 L519.63,136.45 L519.99,136.45 L520.36,136.45 L520.72,136.45 L521.08,136.45 L521.45,136.45 L521.81,136.45 L522.17,136.45 L522.54,136.45 L522.90,136.45 L523.26,136.45 L523.62,136.45 L523.99,136.45 L524.35,136.45 L524.71,136.45 L525.08,136.45 L525.44,136.45 L525.80,136.45 L526.17,136.45 L526.53,136.45 L526.89,136.45 L527.25,136.45 L527.62,136.45 L527.98,136.45 L528.34,136.45 L528.71,136.45 L529.07,136.45 L529.43,136.45 L529.80,136.45 L530.16,136.45 L530.52,136.45 L530.89,136.45 L531.25,136.45 L531.61,136.45 L531.97,136.45 L532.34,136.45 L532.70,136.45 L533.06,136.45 L533.43,136.45 L533.79,136.45 L534.15,136.45 L534.52,136.45 L534.88,136.45 L535.24,136.45 L535.61,136.45 L535.97,136.45 L536.33,136.45 L536.69,136.45 L537.06,136.45 L537.42,136.45 L537.78,136.45 L538.15,136.45 L538.51,136.45 L538.87,136.45 L539.24,136.45 L539.60,136.45 L539.96,136.45 L540.32,136.45 L540.69,136.45 L541.05,136.45 L541.41,136.45 L541.78,136.45 L542.14,136.45 L542.50,136.45 L542.87,136.45 L543.23,136.45 L543.59,136.45 L543.96,136.45 L544.32,136.45 L544.68,136.45 L545.04,136.45 L545.41,136.45 L545.77,136.45 L546.13,136.45 L546.50,136.45 L546.86,136.45 L547.22,136.45 L547.59,136.45 L547.95,136.45 L548.31,136.45 L548.67,136.45 L549.04,136.45 L549.40,136.45 L549.76,136.45 L550.13,136.45 L550.49,136.45 L550.85,136.45 L551.22,136.45 L551.58,136.45 L551.94,136.45 L552.31,136.45 L552.67,136.45 L553.03,136.45 L553.39,136.45 L553.76,136.45 L554.12,136.45 L554.48,136.45 L554.85,136.45 L555.21,136.45 L555.57,136.45 L555.94,136.45 L556.30,136.45 L556.66,136.45 L557.02,136.45 L557.39,136.45 L557.75,136.45 L558.11,136.45 L558.48,136.45 L558.84,136.45 L559.20,136.45 L559.57,136.45 L559.93,136.45 L560.29,136.45 L560.66,136.45 L561.02,136.45 L561.38,136.45 L561.74,136.45 L562.11,136.45 L562.47,136.45 L562.83,136.45 L563.20,136.45 L563.56,136.45 L563.92,136.45 L564.29,136.45 L564.65,136.45 L565.01,136.45 L565.37,136.45 L565.74,136.45 L566.10,136.45 L566.46,136.45 L566.83,136.45 L567.19,136.45 L567.55,136.45 L567.92,136.45 L568.28,136.45 L568.64,136.45 L569.01,136.45 L569.37,136.45 L569.73,136.45 L570.09,136.45 L570.46,136.45 L570.82,136.45 L571.18,136.45 L571.55,136.45 L571.91,136.45 L572.27,136.45 L572.64,136.45 L573.00,136.45 L573.36,136.45 L573.72,136.45 L574.09,136.45 L574.45,136.45 L574.81,136.45 L575.18,136.45 L575.54,136.45 L575.90,136.45 L576.27,136.45 L576.63,136.45 L576.99,136.45 L577.36,136.45 L577.72,136.45 L578.08,136.45 L578.44,136.45 L578.81,136.45 L579.17,136.45 L579.53,136.45 L579.90,136.45 L580.26,136.45 L580.62,136.45 L580.99,136.45 L581.35,136.45 L581.71,136.45 L582.07,136.45 L582.44,136.45 L582.80,136.45 L583.16,136.45 L583.53,136.45 L583.89,136.45" fill="none" stroke="#ff7f0e" stroke-width="1.35" stroke-opacity="0.85"/>
<line x1="363.2" y1="32.9" x2="380" y2="32.9" stroke="#1f77b4" stroke-width="1.8" stroke-dasharray="1.7 3.1"/>
<line x1="363" y1="54.0" x2="380" y2="54.0" stroke="#ff7f0e" stroke-width="1.1" stroke-opacity="0.8"/>
<text x="386.0" y="30.1" font-size="9.0" fill="#262626" stroke="#262626" stroke-width="0.12" textLength="83.2" lengthAdjust="spacingAndGlyphs">Reconstructed pulse</text>
<text x="386.0" y="39.6" font-size="9.0" fill="#262626" stroke="#262626" stroke-width="0.12" textLength="60.6" lengthAdjust="spacingAndGlyphs">FWHM=44.8 fs</text>
<text x="386.3" y="51.8" font-size="9.0" fill="#262626" stroke="#262626" stroke-width="0.12" textLength="8.6" lengthAdjust="spacingAndGlyphs">Fit</text>
<text x="386.0" y="60.9" font-size="9.0" fill="#262626" stroke="#262626" stroke-width="0.12" textLength="60.6" lengthAdjust="spacingAndGlyphs">FWHM=44.2 fs</text>
<line x1="356.1" y1="16.0" x2="596.8" y2="16.0" stroke="#999" stroke-width="1.3"/>
<line x1="356.5" y1="142.45" x2="596.4" y2="142.45" stroke="#555555" stroke-width="0.9"/>
<line x1="356.5" y1="16.0" x2="356.5" y2="142.45" stroke="#555555" stroke-width="0.9"/>
<line x1="596.4" y1="16.0" x2="596.4" y2="142.45" stroke="#7a7a7a" stroke-width="0.9"/>
<line x1="387.20" y1="142.45" x2="387.20" y2="144.75" stroke="#555555" stroke-width="0.8"/>
<text x="387.55" y="153.8" font-size="9.0" fill="#262626" stroke="#262626" stroke-width="0.12" text-anchor="middle" textLength="21.4" lengthAdjust="spacingAndGlyphs">−200</text>
<line x1="431.40" y1="142.45" x2="431.40" y2="144.75" stroke="#555555" stroke-width="0.8"/>
<text x="431.75" y="153.8" font-size="9.0" fill="#262626" stroke="#262626" stroke-width="0.12" text-anchor="middle" textLength="21.4" lengthAdjust="spacingAndGlyphs">−100</text>
<line x1="475.60" y1="142.45" x2="475.60" y2="144.75" stroke="#555555" stroke-width="0.8"/>
<text x="475.6" y="153.8" font-size="9.0" fill="#262626" stroke="#262626" stroke-width="0.12" text-anchor="middle" textLength="4.8" lengthAdjust="spacingAndGlyphs">0</text>
<line x1="519.80" y1="142.45" x2="519.80" y2="144.75" stroke="#555555" stroke-width="0.8"/>
<text x="519.8" y="153.8" font-size="9.0" fill="#262626" stroke="#262626" stroke-width="0.12" text-anchor="middle" textLength="14.8" lengthAdjust="spacingAndGlyphs">100</text>
<line x1="564.00" y1="142.45" x2="564.00" y2="144.75" stroke="#555555" stroke-width="0.8"/>
<text x="564.0" y="153.8" font-size="9.0" fill="#262626" stroke="#262626" stroke-width="0.12" text-anchor="middle" textLength="14.8" lengthAdjust="spacingAndGlyphs">200</text>
<line x1="354.3" y1="136.50" x2="356.5" y2="136.50" stroke="#555555" stroke-width="0.8"/>
<text x="351.3" y="140.2" font-size="9.3" fill="#262626" stroke="#262626" stroke-width="0.12" text-anchor="end" textLength="11.7" lengthAdjust="spacingAndGlyphs">0.0</text>
<line x1="354.3" y1="113.55" x2="356.5" y2="113.55" stroke="#555555" stroke-width="0.8"/>
<text x="351.3" y="117.25" font-size="9.3" fill="#262626" stroke="#262626" stroke-width="0.12" text-anchor="end" textLength="11.7" lengthAdjust="spacingAndGlyphs">0.2</text>
<line x1="354.3" y1="90.60" x2="356.5" y2="90.60" stroke="#555555" stroke-width="0.8"/>
<text x="351.3" y="94.3" font-size="9.3" fill="#262626" stroke="#262626" stroke-width="0.12" text-anchor="end" textLength="11.7" lengthAdjust="spacingAndGlyphs">0.4</text>
<line x1="354.3" y1="67.65" x2="356.5" y2="67.65" stroke="#555555" stroke-width="0.8"/>
<text x="351.3" y="71.35" font-size="9.3" fill="#262626" stroke="#262626" stroke-width="0.12" text-anchor="end" textLength="11.7" lengthAdjust="spacingAndGlyphs">0.6</text>
<line x1="354.3" y1="44.70" x2="356.5" y2="44.70" stroke="#555555" stroke-width="0.8"/>
<text x="351.3" y="48.4" font-size="9.3" fill="#262626" stroke="#262626" stroke-width="0.12" text-anchor="end" textLength="11.7" lengthAdjust="spacingAndGlyphs">0.8</text>
<line x1="354.3" y1="21.75" x2="356.5" y2="21.75" stroke="#555555" stroke-width="0.8"/>
<text x="351.3" y="25.45" font-size="9.3" fill="#262626" stroke="#262626" stroke-width="0.12" text-anchor="end" textLength="11.7" lengthAdjust="spacingAndGlyphs">1.0</text>
<text x="334.1" y="80.22" font-size="8.9" fill="#262626" stroke="#262626" stroke-width="0.1" text-anchor="middle" textLength="83" lengthAdjust="spacingAndGlyphs" transform="rotate(-90 334.1 80.22)">Normalized intensity</text>
<text x="476.4" y="163.25" font-size="9.0" fill="#262626" stroke="#262626" stroke-width="0.12" text-anchor="middle" textLength="36.6" lengthAdjust="spacingAndGlyphs">Time [fs]</text>
<text x="477.7" y="7.5" font-size="10.0" fill="#000" stroke="#000" stroke-width="0.12" text-anchor="middle" textLength="82.7" lengthAdjust="spacingAndGlyphs">Temporal intensity</text>
<text x="321.1" y="19.9" font-size="14.3" fill="#000" stroke="#000" stroke-width="0.12">(b)</text>
<line x1="44.60" y1="212.9" x2="44.60" y2="339.5" stroke="#cccccc" stroke-width="0.8"/>
<line x1="71.29" y1="212.9" x2="71.29" y2="339.5" stroke="#cccccc" stroke-width="0.8"/>
<line x1="97.98" y1="212.9" x2="97.98" y2="339.5" stroke="#cccccc" stroke-width="0.8"/>
<line x1="124.67" y1="212.9" x2="124.67" y2="339.5" stroke="#cccccc" stroke-width="0.8"/>
<line x1="151.36" y1="212.9" x2="151.36" y2="339.5" stroke="#cccccc" stroke-width="0.8"/>
<line x1="178.05" y1="212.9" x2="178.05" y2="339.5" stroke="#cccccc" stroke-width="0.8"/>
<line x1="204.74" y1="212.9" x2="204.74" y2="339.5" stroke="#cccccc" stroke-width="0.8"/>
<line x1="231.43" y1="212.9" x2="231.43" y2="339.5" stroke="#cccccc" stroke-width="0.8"/>
<line x1="258.12" y1="212.9" x2="258.12" y2="339.5" stroke="#cccccc" stroke-width="0.8"/>
<line x1="284.81" y1="212.9" x2="284.81" y2="339.5" stroke="#cccccc" stroke-width="0.8"/>
<line x1="44.5" y1="333.65" x2="284.9" y2="333.65" stroke="#cccccc" stroke-width="0.8"/>
<line x1="44.5" y1="310.66" x2="284.9" y2="310.66" stroke="#cccccc" stroke-width="0.8"/>
<line x1="44.5" y1="287.67" x2="284.9" y2="287.67" stroke="#cccccc" stroke-width="0.8"/>
<line x1="44.5" y1="264.68" x2="284.9" y2="264.68" stroke="#cccccc" stroke-width="0.8"/>
<line x1="44.5" y1="241.69" x2="284.9" y2="241.69" stroke="#cccccc" stroke-width="0.8"/>
<line x1="44.5" y1="218.70" x2="284.9" y2="218.70" stroke="#cccccc" stroke-width="0.8"/>
<path d="M44.60,333.40 L45.17,333.40 L45.75,333.40 L46.32,333.40 L46.89,333.40 L47.47,333.40 L48.04,333.40 L48.61,333.40 L49.19,333.40 L49.76,333.40 L50.33,333.40 L50.91,333.40 L51.48,333.40 L52.05,333.40 L52.63,333.40 L53.20,333.40 L53.77,333.40 L54.35,333.40 L54.92,333.40 L55.49,333.40 L56.07,333.40 L56.64,333.40 L57.21,333.40 L57.79,333.40 L58.36,333.40 L58.93,333.40 L59.51,333.40 L60.08,333.40 L60.65,333.39 L61.22,333.37 L61.80,333.34 L62.37,333.30 L62.94,333.26 L63.52,333.20 L64.09,333.14 L64.66,333.07 L65.24,333.00 L65.81,332.93 L66.38,332.84 L66.96,332.72 L67.53,332.58 L68.10,332.40 L68.68,332.20 L69.25,331.98 L69.82,331.74 L70.40,331.49 L70.97,331.23 L71.54,330.95 L72.12,330.67 L72.69,330.39 L73.26,330.11 L73.84,329.84 L74.41,329.57 L74.98,329.29 L75.56,329.01 L76.13,328.71 L76.70,328.40 L77.28,328.06 L77.85,327.70 L78.42,327.30 L79.00,326.86 L79.57,326.38 L80.14,325.86 L80.72,325.19 L81.29,324.32 L81.86,323.29 L82.44,322.16 L83.01,320.99 L83.58,319.84 L84.16,318.63 L84.73,317.35 L85.30,316.02 L85.88,314.66 L86.45,313.32 L87.02,312.03 L87.60,310.78 L88.17,309.54 L88.74,308.31 L89.32,307.06 L89.89,305.76 L90.46,304.45 L91.03,303.15 L91.61,301.81 L92.18,300.33 L92.75,298.63 L93.33,296.54 L93.90,294.11 L94.47,291.50 L95.05,288.85 L95.62,286.06 L96.19,283.12 L96.77,280.04 L97.34,276.72 L97.91,273.34 L98.49,270.07 L99.06,266.88 L99.63,263.67 L100.21,260.63 L100.78,257.92 L101.35,255.59 L101.93,253.38 L102.50,251.46 L103.07,250.03 L103.65,249.05 L104.22,248.20 L104.79,247.64 L105.37,247.53 L105.94,248.08 L106.51,249.06 L107.09,250.17 L107.66,251.56 L108.23,253.34 L108.81,255.37 L109.38,257.54 L109.95,259.86 L110.53,262.50 L111.10,265.35 L111.67,268.31 L112.25,271.31 L112.82,274.57 L113.39,277.86 L113.97,280.84 L114.54,283.80 L115.11,286.67 L115.69,288.25 L116.26,288.23 L116.83,287.96 L117.41,287.57 L117.98,286.79 L118.55,285.26 L119.13,283.42 L119.70,281.70 L120.27,280.44 L120.84,279.20 L121.42,277.98 L121.99,276.88 L122.56,276.02 L123.14,275.50 L123.71,275.44 L124.28,275.91 L124.86,276.76 L125.43,277.85 L126.00,279.01 L126.58,280.46 L127.15,282.37 L127.72,284.51 L128.30,286.67 L128.87,288.61 L129.44,290.38 L130.02,292.32 L130.59,294.19 L131.16,295.74 L131.74,296.71 L132.31,296.89 L132.88,296.74 L133.46,296.46 L134.03,296.11 L134.60,295.74 L135.18,295.39 L135.75,294.96 L136.32,294.43 L136.90,293.87 L137.47,293.31 L138.04,292.80 L138.62,292.40 L139.19,292.16 L139.76,292.11 L140.34,292.26 L140.91,292.56 L141.48,292.97 L142.06,293.44 L142.63,293.95 L143.20,294.43 L143.78,294.86 L144.35,295.22 L144.92,295.61 L145.50,296.02 L146.07,296.41 L146.64,296.77 L147.22,297.06 L147.79,297.24 L148.36,297.30 L148.94,297.20 L149.51,296.99 L150.08,296.70 L150.65,296.39 L151.23,296.11 L151.80,295.89 L152.37,295.64 L152.95,295.40 L153.52,295.19 L154.09,295.05 L154.67,295.00 L155.24,295.13 L155.81,295.43 L156.39,295.84 L156.96,296.33 L157.53,296.84 L158.11,297.31 L158.68,297.73 L159.25,298.18 L159.83,298.68 L160.40,299.18 L160.97,299.65 L161.55,300.04 L162.12,300.30 L162.69,300.40 L163.27,300.15 L163.84,299.49 L164.41,298.55 L164.99,297.47 L165.56,296.39 L166.13,295.19 L166.71,293.77 L167.28,292.17 L167.85,290.41 L168.43,288.55 L169.00,286.46 L169.57,284.05 L170.15,281.47 L170.72,278.92 L171.29,276.45 L171.87,273.96 L172.44,271.30 L173.01,268.34 L173.59,264.99 L174.16,261.36 L174.73,257.58 L175.31,253.77 L175.88,250.04 L176.45,246.52 L177.03,243.33 L177.60,240.22 L178.17,237.13 L178.75,234.14 L179.32,231.33 L179.89,228.79 L180.46,226.59 L181.04,224.77 L181.61,222.97 L182.18,221.28 L182.76,219.91 L183.33,219.07 L183.90,218.94 L184.48,219.37 L185.05,220.19 L185.62,221.24 L186.20,222.40 L186.77,223.57 L187.34,225.02 L187.92,226.72 L188.49,228.60 L189.06,230.57 L189.64,232.53 L190.21,234.41 L190.78,236.17 L191.36,237.91 L191.93,239.66 L192.50,241.40 L193.08,243.14 L193.65,244.87 L194.22,246.60 L194.80,248.33 L195.37,250.04 L195.94,251.75 L196.52,253.45 L197.09,255.15 L197.66,256.83 L198.24,258.49 L198.81,260.13 L199.38,261.72 L199.96,263.31 L200.53,264.90 L201.10,266.50 L201.68,268.15 L202.25,269.85 L202.82,271.69 L203.40,273.70 L203.97,275.68 L204.54,277.46 L205.12,278.91 L205.69,280.19 L206.26,281.39 L206.84,282.51 L207.41,283.56 L207.98,284.55 L208.56,285.48 L209.13,286.37 L209.70,287.21 L210.27,288.03 L210.85,288.80 L211.42,289.52 L211.99,290.18 L212.57,290.82 L213.14,291.43 L213.71,292.03 L214.29,292.64 L214.86,293.27 L215.43,293.92 L216.01,294.60 L216.58,295.29 L217.15,295.99 L217.73,296.69 L218.30,297.39 L218.87,298.11 L219.45,298.82 L220.02,299.55 L220.59,300.27 L221.17,301.00 L221.74,301.74 L222.31,302.47 L222.89,303.22 L223.46,303.96 L224.03,304.71 L224.61,305.46 L225.18,306.22 L225.75,306.98 L226.33,307.74 L226.90,308.51 L227.47,309.28 L228.05,310.05 L228.62,310.83 L229.19,311.61 L229.77,312.39 L230.34,313.18 L230.91,313.97 L231.49,314.76 L232.06,315.57 L232.63,316.41 L233.21,317.26 L233.78,318.13 L234.35,319.00 L234.93,319.87 L235.50,320.73 L236.07,321.58 L236.65,322.41 L237.22,323.22 L237.79,323.99 L238.37,324.73 L238.94,325.43 L239.51,326.10 L240.08,326.78 L240.66,327.46 L241.23,328.13 L241.80,328.76 L242.38,329.36 L242.95,329.90 L243.52,330.37 L244.10,330.77 L244.67,331.09 L245.24,331.37 L245.82,331.65 L246.39,331.91 L246.96,332.15 L247.54,332.38 L248.11,332.58 L248.68,332.76 L249.26,332.92 L249.83,333.04 L250.40,333.14 L250.98,333.19 L251.55,333.22 L252.12,333.25 L252.70,333.28 L253.27,333.30 L253.84,333.32 L254.42,333.34 L254.99,333.36 L255.56,333.37 L256.14,333.38 L256.71,333.39 L257.28,333.40 L257.86,333.40 L258.43,333.40 L259.00,333.40 L259.58,333.40 L260.15,333.40 L260.72,333.40 L261.30,333.40 L261.87,333.40 L262.44,333.40 L263.02,333.40 L263.59,333.40 L264.16,333.40 L264.74,333.40 L265.31,333.40 L265.88,333.40 L266.46,333.40 L267.03,333.40 L267.60,333.40 L268.18,333.40 L268.75,333.40 L269.32,333.40 L269.89,333.40 L270.47,333.40 L271.04,333.40 L271.61,333.40 L272.19,333.40 L272.76,333.40 L273.33,333.40 L273.91,333.40 L274.48,333.40 L275.05,333.40 L275.63,333.40 L276.20,333.40 L276.77,333.40 L277.35,333.40 L277.92,333.40 L278.49,333.40 L279.07,333.40 L279.64,333.40 L280.21,333.40 L280.79,333.40 L281.36,333.40 L281.93,333.40 L282.51,333.40 L283.08,333.40 L283.65,333.40 L284.23,333.40 L284.80,333.40" fill="none" stroke="#1f77b4" stroke-width="1.2" stroke-opacity="0.88" stroke-linejoin="round"/>
<path d="M44.60,333.40 L44.87,333.40 L45.13,333.40 L45.40,333.40 L45.67,333.40 L45.94,333.40 L46.20,333.40 L46.47,333.40 L46.74,333.40 L47.00,333.40 L47.27,333.40 L47.54,333.40 L47.81,333.40 L48.07,333.40 L48.34,333.40 L48.61,333.40 L48.87,333.40 L49.14,333.40 L49.41,333.40 L49.68,333.40 L49.94,333.40 L50.21,333.40 L50.48,333.40 L50.75,333.40 L51.01,333.40 L51.28,333.40 L51.55,333.40 L51.81,333.40 L52.08,333.40 L52.35,333.40 L52.62,333.40 L52.88,333.40 L53.15,333.40 L53.42,333.40 L53.68,333.40 L53.95,333.40 L54.22,333.40 L54.49,333.40 L54.75,333.40 L55.02,333.40 L55.29,333.40 L55.55,333.40 L55.82,333.40 L56.09,333.40 L56.36,333.40 L56.62,333.40 L56.89,333.40 L57.16,333.40 L57.42,333.40 L57.69,333.40 L57.96,333.40 L58.23,333.40 L58.49,333.40 L58.76,333.39 L59.03,333.38 L59.30,333.37 L59.56,333.35 L59.83,333.34 L60.10,333.32 L60.36,333.30 L60.63,333.28 L60.90,333.26 L61.17,333.23 L61.43,333.20 L61.70,333.18 L61.97,333.15 L62.23,333.12 L62.50,333.09 L62.77,333.05 L63.04,333.02 L63.30,332.99 L63.57,332.95 L63.84,332.92 L64.10,332.89 L64.37,332.85 L64.64,332.81 L64.91,332.76 L65.17,332.71 L65.44,332.66 L65.71,332.60 L65.97,332.54 L66.24,332.48 L66.51,332.41 L66.78,332.34 L67.04,332.27 L67.31,332.19 L67.58,332.11 L67.85,332.03 L68.11,331.94 L68.38,331.85 L68.65,331.76 L68.91,331.66 L69.18,331.57 L69.45,331.46 L69.72,331.36 L69.98,331.25 L70.25,331.14 L70.52,331.03 L70.78,330.92 L71.05,330.80 L71.32,330.68 L71.59,330.56 L71.85,330.43 L72.12,330.28 L72.39,330.12 L72.65,329.94 L72.92,329.75 L73.19,329.56 L73.46,329.35 L73.72,329.13 L73.99,328.91 L74.26,328.68 L74.52,328.44 L74.79,328.19 L75.06,327.94 L75.33,327.69 L75.59,327.43 L75.86,327.16 L76.13,326.87 L76.40,326.58 L76.66,326.26 L76.93,325.93 L77.20,325.57 L77.46,325.19 L77.73,324.78 L78.00,324.34 L78.27,323.86 L78.53,323.31 L78.80,322.63 L79.07,321.85 L79.33,320.98 L79.60,320.07 L79.87,319.14 L80.14,318.21 L80.40,317.31 L80.67,316.45 L80.94,315.56 L81.20,314.65 L81.47,313.72 L81.74,312.80 L82.01,311.88 L82.27,310.99 L82.54,310.13 L82.81,309.32 L83.07,308.57 L83.34,307.87 L83.61,307.19 L83.88,306.55 L84.14,305.92 L84.41,305.32 L84.68,304.73 L84.95,304.16 L85.21,303.60 L85.48,303.05 L85.75,302.51 L86.01,301.97 L86.28,301.46 L86.55,300.99 L86.82,300.54 L87.08,300.10 L87.35,299.67 L87.62,299.23 L87.88,298.77 L88.15,298.28 L88.42,297.75 L88.69,297.17 L88.95,296.52 L89.22,295.77 L89.49,294.93 L89.75,294.02 L90.02,293.06 L90.29,292.04 L90.56,290.95 L90.82,289.76 L91.09,288.48 L91.36,287.15 L91.62,285.79 L91.89,284.39 L92.16,282.91 L92.43,281.37 L92.69,279.82 L92.96,278.30 L93.23,276.85 L93.49,275.52 L93.76,274.25 L94.03,272.99 L94.30,271.67 L94.56,270.21 L94.83,268.55 L95.10,266.68 L95.37,264.68 L95.63,262.59 L95.90,260.49 L96.17,258.42 L96.43,256.46 L96.70,254.59 L96.97,252.67 L97.24,250.75 L97.50,248.88 L97.77,247.08 L98.04,245.43 L98.30,243.94 L98.57,242.68 L98.84,241.44 L99.11,240.12 L99.37,238.94 L99.64,237.50 L99.91,238.36 L100.17,236.29 L100.44,234.11 L100.71,233.94 L100.98,235.13 L101.24,239.81 L101.51,235.45 L101.78,236.46 L102.04,237.68 L102.31,237.17 L102.58,242.36 L102.85,238.03 L103.11,241.61 L103.38,241.71 L103.65,243.78 L103.92,241.45 L104.18,247.99 L104.45,245.26 L104.72,246.37 L104.98,245.32 L105.25,246.49 L105.52,249.74 L105.79,251.37 L106.05,251.80 L106.32,253.61 L106.59,253.71 L106.85,253.59 L107.12,256.44 L107.39,257.37 L107.66,257.49 L107.92,260.49 L108.19,262.95 L108.46,262.25 L108.72,262.35 L108.99,265.59 L109.26,269.02 L109.53,266.16 L109.79,267.50 L110.06,268.48 L110.33,272.06 L110.59,267.19 L110.86,272.26 L111.13,274.67 L111.40,271.67 L111.66,276.84 L111.93,275.81 L112.20,274.51 L112.47,276.61 L112.73,273.93 L113.00,276.41 L113.27,281.67 L113.53,277.32 L113.80,283.51 L114.07,281.36 L114.34,285.50 L114.60,286.00 L114.87,283.82 L115.14,288.64 L115.40,291.16 L115.67,289.62 L115.94,290.14 L116.21,294.11 L116.47,292.63 L116.74,290.77 L117.01,292.27 L117.27,294.33 L117.54,290.71 L117.81,292.35 L118.08,292.72 L118.34,289.22 L118.61,286.38 L118.88,285.48 L119.14,287.41 L119.41,288.77 L119.68,287.34 L119.95,287.63 L120.21,285.53 L120.48,286.75 L120.75,285.12 L121.02,285.27 L121.28,283.36 L121.55,282.82 L121.82,284.98 L122.08,283.99 L122.35,284.55 L122.62,288.00 L122.89,286.90 L123.15,293.04 L123.42,289.65 L123.69,287.06 L123.95,290.16 L124.22,289.82 L124.49,288.32 L124.76,292.22 L125.02,289.17 L125.29,285.36 L125.56,293.19 L125.82,291.01 L126.09,295.49 L126.36,291.90 L126.63,291.37 L126.89,297.02 L127.16,292.51 L127.43,295.40 L127.69,298.23 L127.96,296.15 L128.23,296.27 L128.50,297.17 L128.76,299.14 L129.03,296.59 L129.30,299.81 L129.57,300.19 L129.83,303.85 L130.10,298.95 L130.37,297.85 L130.63,300.93 L130.90,298.67 L131.17,299.84 L131.44,299.38 L131.70,301.16 L131.97,297.49 L132.24,298.38 L132.50,294.71 L132.77,297.11 L133.04,299.38 L133.31,297.35 L133.57,297.33 L133.84,297.22 L134.11,297.21 L134.37,296.99 L134.64,296.53 L134.91,296.68 L135.18,296.37 L135.44,296.37 L135.71,295.56 L135.98,296.62 L136.24,295.72 L136.51,295.28 L136.78,294.93 L137.05,294.98 L137.31,295.51 L137.58,294.86 L137.85,295.60 L138.12,295.34 L138.38,295.79 L138.65,295.54 L138.92,295.11 L139.18,294.15 L139.45,295.43 L139.72,295.76 L139.99,295.48 L140.25,295.75 L140.52,295.24 L140.79,295.34 L141.05,295.06 L141.32,296.35 L141.59,295.69 L141.86,295.32 L142.12,294.85 L142.39,295.49 L142.66,296.35 L142.92,295.79 L143.19,295.12 L143.46,296.29 L143.73,296.26 L143.99,296.00 L144.26,295.88 L144.53,296.06 L144.79,295.71 L145.06,295.83 L145.33,294.97 L145.60,296.23 L145.86,295.55 L146.13,296.56 L146.40,294.36 L146.66,295.92 L146.93,296.12 L147.20,295.45 L147.47,295.94 L147.73,296.16 L148.00,296.13 L148.27,295.57 L148.54,295.84 L148.80,296.53 L149.07,296.71 L149.34,296.10 L149.60,296.12 L149.87,296.21 L150.14,296.70 L150.41,295.57 L150.67,295.45 L150.94,296.27 L151.21,295.62 L151.47,295.93 L151.74,296.34 L152.01,296.59 L152.28,295.77 L152.54,296.85 L152.81,295.48 L153.08,296.82 L153.34,295.76 L153.61,296.08 L153.88,297.34 L154.15,297.00 L154.41,297.06 L154.68,297.56 L154.95,298.37 L155.21,298.42 L155.48,298.77 L155.75,299.70 L156.02,299.05 L156.28,299.50 L156.55,299.77 L156.82,301.01 L157.09,301.25 L157.35,301.77 L157.62,301.41 L157.89,301.70 L158.15,302.60 L158.42,302.24 L158.69,303.19 L158.96,303.38 L159.22,302.78 L159.49,303.25 L159.76,303.35 L160.02,304.49 L160.29,305.05 L160.56,303.63 L160.83,303.71 L161.09,302.38 L161.36,303.60 L161.63,303.24 L161.89,302.37 L162.16,303.05 L162.43,301.40 L162.70,301.78 L162.96,301.62 L163.23,300.51 L163.50,301.29 L163.76,300.99 L164.03,299.22 L164.30,298.74 L164.57,299.36 L164.83,298.50 L165.10,297.31 L165.37,297.25 L165.64,296.76 L165.90,296.10 L166.17,295.94 L166.44,294.95 L166.70,294.92 L166.97,293.86 L167.24,292.60 L167.51,291.92 L167.77,291.12 L168.04,289.77 L168.31,287.65 L168.57,287.68 L168.84,286.09 L169.11,285.69 L169.38,283.65 L169.64,282.54 L169.91,281.12 L170.18,280.04 L170.44,278.27 L170.71,276.78 L170.98,275.32 L171.25,273.81 L171.51,272.27 L171.78,270.71 L172.05,269.11 L172.31,267.45 L172.58,265.72 L172.85,263.95 L173.12,262.15 L173.38,260.33 L173.65,258.52 L173.92,256.74 L174.19,254.99 L174.45,253.30 L174.72,251.64 L174.99,249.97 L175.25,248.30 L175.52,246.65 L175.79,245.04 L176.06,243.47 L176.32,241.96 L176.59,240.53 L176.86,239.20 L177.12,237.95 L177.39,236.72 L177.66,235.51 L177.93,234.33 L178.19,233.17 L178.46,232.05 L178.73,230.96 L178.99,229.91 L179.26,228.90 L179.53,227.93 L179.80,227.01 L180.06,226.14 L180.33,225.31 L180.60,224.54 L180.86,223.83 L181.13,223.10 L181.40,222.36 L181.67,221.62 L181.93,220.92 L182.20,220.28 L182.47,219.74 L182.74,219.31 L183.00,219.02 L183.27,218.90 L183.54,218.96 L183.80,219.17 L184.07,219.50 L184.34,219.93 L184.61,220.44 L184.87,221.02 L185.14,221.64 L185.41,222.28 L185.67,222.97 L185.94,223.88 L186.21,225.03 L186.48,226.11 L186.74,227.43 L187.01,229.00 L187.28,229.80 L187.54,231.50 L187.81,233.09 L188.08,234.21 L188.35,235.47 L188.61,236.19 L188.88,238.19 L189.15,238.96 L189.41,241.35 L189.68,243.50 L189.95,243.01 L190.22,243.70 L190.48,246.28 L190.75,248.20 L191.02,249.90 L191.28,250.99 L191.55,250.76 L191.82,251.54 L192.09,253.49 L192.35,252.74 L192.62,254.67 L192.89,254.48 L193.16,255.67 L193.42,256.24 L193.69,256.91 L193.96,257.55 L194.22,257.07 L194.49,258.43 L194.76,258.85 L195.03,259.60 L195.29,260.73 L195.56,260.39 L195.83,260.69 L196.09,261.24 L196.36,262.05 L196.63,263.23 L196.90,262.83 L197.16,264.55 L197.43,264.55 L197.70,264.76 L197.96,264.62 L198.23,266.09 L198.50,266.88 L198.77,265.94 L199.03,268.25 L199.30,269.07 L199.57,268.85 L199.83,269.49 L200.10,271.20 L200.37,271.05 L200.64,270.33 L200.90,271.43 L201.17,271.94 L201.44,272.55 L201.71,271.85 L201.97,274.38 L202.24,274.22 L202.51,275.38 L202.77,275.91 L203.04,277.26 L203.31,277.38 L203.58,277.98 L203.84,279.79 L204.11,281.62 L204.38,282.16 L204.64,284.89 L204.91,285.94 L205.18,287.04 L205.45,289.64 L205.71,289.56 L205.98,291.95 L206.25,292.27 L206.51,293.99 L206.78,294.01 L207.05,295.14 L207.32,297.07 L207.58,297.27 L207.85,297.86 L208.12,298.16 L208.38,299.17 L208.65,298.42 L208.92,298.89 L209.19,299.75 L209.45,299.60 L209.72,299.89 L209.99,300.42 L210.26,300.49 L210.52,300.48 L210.79,301.65 L211.06,301.28 L211.32,301.44 L211.59,300.71 L211.86,300.44 L212.13,299.89 L212.39,300.57 L212.66,299.53 L212.93,300.44 L213.19,301.26 L213.46,301.77 L213.73,301.38 L214.00,300.27 L214.26,301.07 L214.53,300.28 L214.80,301.23 L215.06,300.65 L215.33,301.21 L215.60,302.21 L215.87,301.20 L216.13,302.03 L216.40,300.72 L216.67,300.41 L216.93,301.40 L217.20,301.66 L217.47,300.41 L217.74,300.99 L218.00,300.35 L218.27,301.41 L218.54,302.42 L218.81,302.22 L219.07,302.33 L219.34,302.23 L219.61,303.69 L219.87,304.32 L220.14,304.54 L220.41,304.68 L220.68,304.12 L220.94,306.31 L221.21,305.59 L221.48,305.92 L221.74,306.83 L222.01,305.48 L222.28,307.12 L222.55,307.47 L222.81,308.15 L223.08,309.11 L223.35,308.95 L223.61,307.92 L223.88,309.16 L224.15,309.83 L224.42,310.14 L224.68,309.62 L224.95,309.73 L225.22,311.39 L225.48,311.60 L225.75,311.70 L226.02,311.01 L226.29,313.43 L226.55,310.94 L226.82,312.77 L227.09,314.56 L227.36,313.52 L227.62,314.08 L227.89,313.56 L228.16,315.41 L228.42,314.14 L228.69,315.38 L228.96,315.61 L229.23,315.19 L229.49,316.62 L229.76,315.49 L230.03,316.16 L230.29,316.75 L230.56,316.70 L230.83,317.39 L231.10,317.81 L231.36,317.21 L231.63,317.20 L231.90,317.35 L232.16,317.59 L232.43,318.44 L232.70,317.99 L232.97,318.52 L233.23,318.38 L233.50,318.09 L233.77,319.28 L234.03,318.34 L234.30,319.15 L234.57,320.01 L234.84,319.25 L235.10,319.92 L235.37,319.99 L235.64,320.62 L235.91,321.04 L236.17,321.52 L236.44,321.96 L236.71,322.42 L236.97,322.87 L237.24,323.32 L237.51,323.76 L237.78,324.17 L238.04,324.56 L238.31,324.94 L238.58,325.33 L238.84,325.72 L239.11,326.11 L239.38,326.49 L239.65,326.87 L239.91,327.24 L240.18,327.60 L240.45,327.94 L240.71,328.27 L240.98,328.57 L241.25,328.85 L241.52,329.12 L241.78,329.38 L242.05,329.63 L242.32,329.88 L242.58,330.11 L242.85,330.34 L243.12,330.56 L243.39,330.77 L243.65,330.96 L243.92,331.14 L244.19,331.32 L244.45,331.47 L244.72,331.62 L244.99,331.77 L245.26,331.91 L245.52,332.05 L245.79,332.18 L246.06,332.31 L246.33,332.43 L246.59,332.54 L246.86,332.64 L247.13,332.73 L247.39,332.81 L247.66,332.87 L247.93,332.92 L248.20,332.97 L248.46,333.02 L248.73,333.07 L249.00,333.12 L249.26,333.16 L249.53,333.20 L249.80,333.24 L250.07,333.27 L250.33,333.30 L250.60,333.33 L250.87,333.35 L251.13,333.37 L251.40,333.39 L251.67,333.40 L251.94,333.40 L252.20,333.40 L252.47,333.40 L252.74,333.40 L253.00,333.40 L253.27,333.40 L253.54,333.40 L253.81,333.40 L254.07,333.40 L254.34,333.40 L254.61,333.40 L254.88,333.40 L255.14,333.40 L255.41,333.40 L255.68,333.40 L255.94,333.40 L256.21,333.40 L256.48,333.40 L256.75,333.40 L257.01,333.40 L257.28,333.40 L257.55,333.40 L257.81,333.40 L258.08,333.40 L258.35,333.40 L258.62,333.40 L258.88,333.40 L259.15,333.40 L259.42,333.40 L259.68,333.40 L259.95,333.40 L260.22,333.40 L260.49,333.40 L260.75,333.40 L261.02,333.40 L261.29,333.40 L261.55,333.40 L261.82,333.40 L262.09,333.40 L262.36,333.40 L262.62,333.40 L262.89,333.40 L263.16,333.40 L263.43,333.40 L263.69,333.40 L263.96,333.40 L264.23,333.40 L264.49,333.40 L264.76,333.40 L265.03,333.40 L265.30,333.40 L265.56,333.40 L265.83,333.40 L266.10,333.40 L266.36,333.40 L266.63,333.40 L266.90,333.40 L267.17,333.40 L267.43,333.40 L267.70,333.40 L267.97,333.40 L268.23,333.40 L268.50,333.40 L268.77,333.40 L269.04,333.40 L269.30,333.40 L269.57,333.40 L269.84,333.40 L270.10,333.40 L270.37,333.40 L270.64,333.40 L270.91,333.40 L271.17,333.40 L271.44,333.40 L271.71,333.40 L271.98,333.40 L272.24,333.40 L272.51,333.40 L272.78,333.40 L273.04,333.40 L273.31,333.40 L273.58,333.40 L273.85,333.40 L274.11,333.40 L274.38,333.40 L274.65,333.40 L274.91,333.40 L275.18,333.40 L275.45,333.40 L275.72,333.40 L275.98,333.40 L276.25,333.40 L276.52,333.40 L276.78,333.40 L277.05,333.40 L277.32,333.40 L277.59,333.40 L277.85,333.40 L278.12,333.40 L278.39,333.40 L278.65,333.40 L278.92,333.40 L279.19,333.40 L279.46,333.40 L279.72,333.40 L279.99,333.40 L280.26,333.40 L280.53,333.40 L280.79,333.40 L281.06,333.40 L281.33,333.40 L281.59,333.40 L281.86,333.40 L282.13,333.40 L282.40,333.40 L282.66,333.40 L282.93,333.40 L283.20,333.40 L283.46,333.40 L283.73,333.40 L284.00,333.40 L284.27,333.40 L284.53,333.40 L284.80,333.40" fill="none" stroke="#ff7f0e" stroke-width="1.1" stroke-opacity="0.9" stroke-linejoin="round"/>
<path d="M68.70,282.50 L69.52,281.68 L70.34,280.92 L71.15,280.22 L71.97,279.62 L72.79,279.08 L73.61,278.57 L74.42,278.10 L75.24,277.70 L76.06,277.38 L76.88,277.14 L77.70,276.96 L78.51,276.80 L79.33,276.66 L80.15,276.50 L80.97,276.31 L81.78,276.05 L82.60,275.73 L83.42,275.39 L84.24,275.06 L85.06,274.78 L85.87,274.51 L86.69,274.22 L87.51,273.98 L88.33,273.83 L89.15,273.83 L89.96,274.05 L90.78,274.44 L91.60,274.91 L92.42,275.35 L93.23,275.69 L94.05,276.01 L94.87,276.35 L95.69,276.68 L96.51,276.96 L97.32,277.17 L98.14,277.29 L98.96,277.29 L99.78,277.23 L100.59,277.12 L101.41,276.97 L102.23,276.80 L103.05,276.62 L103.87,276.43 L104.68,276.23 L105.50,275.97 L106.32,275.68 L107.14,275.37 L107.95,275.05 L108.77,274.73 L109.59,274.44 L110.41,274.16 L111.23,273.86 L112.04,273.54 L112.86,273.25 L113.68,273.03 L114.50,272.91 L115.32,272.96 L116.13,273.28 L116.95,273.79 L117.77,274.40 L118.59,275.01 L119.40,275.55 L120.22,276.03 L121.04,276.58 L121.86,277.12 L122.68,277.60 L123.49,277.95 L124.31,278.10 L125.13,278.06 L125.95,277.93 L126.76,277.74 L127.58,277.50 L128.40,277.25 L129.22,277.01 L130.04,276.79 L130.85,276.57 L131.67,276.31 L132.49,276.06 L133.31,275.83 L134.12,275.67 L134.94,275.60 L135.76,275.81 L136.58,276.29 L137.40,276.66 L138.21,276.67 L139.03,276.53 L139.85,276.30 L140.67,276.03 L141.48,275.76 L142.30,275.54 L143.12,275.42 L143.94,275.43 L144.76,275.62 L145.57,275.91 L146.39,276.22 L147.21,276.48 L148.03,276.60 L148.85,276.63 L149.66,276.65 L150.48,276.67 L151.30,276.69 L152.12,276.70 L152.93,276.70 L153.75,276.62 L154.57,276.38 L155.39,276.03 L156.21,275.63 L157.02,275.21 L157.84,274.84 L158.66,274.55 L159.48,274.29 L160.29,274.01 L161.11,273.75 L161.93,273.53 L162.75,273.37 L163.57,273.30 L164.38,273.34 L165.20,273.47 L166.02,273.67 L166.84,273.92 L167.65,274.18 L168.47,274.43 L169.29,274.65 L170.11,274.82 L170.93,274.94 L171.74,275.05 L172.56,275.15 L173.38,275.24 L174.20,275.33 L175.02,275.41 L175.83,275.51 L176.65,275.61 L177.47,275.72 L178.29,275.85 L179.10,276.00 L179.92,276.18 L180.74,276.37 L181.56,276.57 L182.38,276.78 L183.19,276.98 L184.01,277.18 L184.83,277.37 L185.65,277.53 L186.46,277.68 L187.28,277.84 L188.10,278.00 L188.92,278.16 L189.74,278.31 L190.55,278.45 L191.37,278.56 L192.19,278.64 L193.01,278.69 L193.82,278.70 L194.64,278.70 L195.46,278.69 L196.28,278.68 L197.10,278.66 L197.91,278.65 L198.73,278.63 L199.55,278.61 L200.37,278.59 L201.18,278.56 L202.00,278.52 L202.82,278.47 L203.64,278.42 L204.46,278.35 L205.27,278.27 L206.09,278.19 L206.91,278.05 L207.73,277.84 L208.55,277.59 L209.36,277.31 L210.18,277.03 L211.00,276.76 L211.82,276.54 L212.63,276.35 L213.45,276.16 L214.27,275.96 L215.09,275.80 L215.91,275.67 L216.72,275.60 L217.54,275.64 L218.36,275.80 L219.18,276.05 L219.99,276.32 L220.81,276.56 L221.63,276.72 L222.45,276.83 L223.27,276.93 L224.08,277.01 L224.90,277.07 L225.72,277.10 L226.54,277.06 L227.35,276.91 L228.17,276.70 L228.99,276.42 L229.81,276.12 L230.63,275.80 L231.44,275.49 L232.26,275.21 L233.08,274.88 L233.90,274.52 L234.72,274.17 L235.53,273.90 L236.35,273.74 L237.17,273.61 L237.99,273.50 L238.80,273.42 L239.62,273.40 L240.44,273.50 L241.26,273.72 L242.08,274.02 L242.89,274.35 L243.71,274.69 L244.53,275.06 L245.35,275.50 L246.16,275.99 L246.98,276.52 L247.80,277.10" fill="none" stroke="#f0353c" stroke-width="1.3" stroke-opacity="0.92" stroke-linejoin="round"/>
<rect x="47.5" y="216.5" width="121" height="37" rx="1.5" fill="#fff" fill-opacity="0.0" stroke="none"/>
<line x1="51.4" y1="229.2" x2="67.9" y2="229.2" stroke="#1f77b4" stroke-width="1.1"/>
<line x1="51.4" y1="244.9" x2="67.9" y2="244.9" stroke="#ff7f0e" stroke-width="1.1"/>
<text x="74.6" y="227.1" font-size="9.0" fill="#262626" stroke="#262626" stroke-width="0.12" textLength="90.7" lengthAdjust="spacingAndGlyphs">FWHM: 401@2010 nm</text>
<text x="74.6" y="236.5" font-size="9.0" fill="#262626" stroke="#262626" stroke-width="0.12" textLength="47" lengthAdjust="spacingAndGlyphs">FTL: 20.0 fs</text>
<text x="74.6" y="248.8" font-size="9.0" fill="#262626" stroke="#262626" stroke-width="0.12" textLength="75.7" lengthAdjust="spacingAndGlyphs">direct; FTL: 19.1 fs</text>
<line x1="44.1" y1="212.9" x2="285.29999999999995" y2="212.9" stroke="#999" stroke-width="1.3"/>
<line x1="44.5" y1="339.5" x2="284.9" y2="339.5" stroke="#555555" stroke-width="0.9"/>
<line x1="44.5" y1="212.9" x2="44.5" y2="339.5" stroke="#1f77b4" stroke-width="0.65"/>
<line x1="284.9" y1="212.9" x2="284.9" y2="339.5" stroke="#ee2c2c" stroke-width="0.6"/>
<line x1="44.60" y1="339.5" x2="44.60" y2="341.8" stroke="#555555" stroke-width="0.8"/>
<text x="44.6" y="350.85" font-size="9.0" fill="#262626" stroke="#262626" stroke-width="0.12" text-anchor="middle" textLength="19.4" lengthAdjust="spacingAndGlyphs">1600</text>
<line x1="71.29" y1="339.5" x2="71.29" y2="341.8" stroke="#555555" stroke-width="0.8"/>
<text x="71.29" y="350.85" font-size="9.0" fill="#262626" stroke="#262626" stroke-width="0.12" text-anchor="middle" textLength="19.4" lengthAdjust="spacingAndGlyphs">1700</text>
<line x1="97.98" y1="339.5" x2="97.98" y2="341.8" stroke="#555555" stroke-width="0.8"/>
<text x="97.98" y="350.85" font-size="9.0" fill="#262626" stroke="#262626" stroke-width="0.12" text-anchor="middle" textLength="19.4" lengthAdjust="spacingAndGlyphs">1800</text>
<line x1="124.67" y1="339.5" x2="124.67" y2="341.8" stroke="#555555" stroke-width="0.8"/>
<text x="124.67" y="350.85" font-size="9.0" fill="#262626" stroke="#262626" stroke-width="0.12" text-anchor="middle" textLength="19.4" lengthAdjust="spacingAndGlyphs">1900</text>
<line x1="151.36" y1="339.5" x2="151.36" y2="341.8" stroke="#555555" stroke-width="0.8"/>
<text x="151.36" y="350.85" font-size="9.0" fill="#262626" stroke="#262626" stroke-width="0.12" text-anchor="middle" textLength="19.4" lengthAdjust="spacingAndGlyphs">2000</text>
<line x1="178.05" y1="339.5" x2="178.05" y2="341.8" stroke="#555555" stroke-width="0.8"/>
<text x="178.05" y="350.85" font-size="9.0" fill="#262626" stroke="#262626" stroke-width="0.12" text-anchor="middle" textLength="19.4" lengthAdjust="spacingAndGlyphs">2100</text>
<line x1="204.74" y1="339.5" x2="204.74" y2="341.8" stroke="#555555" stroke-width="0.8"/>
<text x="204.74" y="350.85" font-size="9.0" fill="#262626" stroke="#262626" stroke-width="0.12" text-anchor="middle" textLength="19.4" lengthAdjust="spacingAndGlyphs">2200</text>
<line x1="231.43" y1="339.5" x2="231.43" y2="341.8" stroke="#555555" stroke-width="0.8"/>
<text x="231.43" y="350.85" font-size="9.0" fill="#262626" stroke="#262626" stroke-width="0.12" text-anchor="middle" textLength="19.4" lengthAdjust="spacingAndGlyphs">2300</text>
<line x1="258.12" y1="339.5" x2="258.12" y2="341.8" stroke="#555555" stroke-width="0.8"/>
<text x="258.12" y="350.85" font-size="9.0" fill="#262626" stroke="#262626" stroke-width="0.12" text-anchor="middle" textLength="19.4" lengthAdjust="spacingAndGlyphs">2400</text>
<line x1="284.81" y1="339.5" x2="284.81" y2="341.8" stroke="#555555" stroke-width="0.8"/>
<text x="284.81" y="350.85" font-size="9.0" fill="#262626" stroke="#262626" stroke-width="0.12" text-anchor="middle" textLength="19.4" lengthAdjust="spacingAndGlyphs">2500</text>
<line x1="42.3" y1="333.65" x2="44.5" y2="333.65" stroke="#1f77b4" stroke-width="0.8"/>
<text x="39.3" y="337.35" font-size="9.3" fill="#1f77b4" stroke="#1f77b4" stroke-width="0.12" text-anchor="end" textLength="11.7" lengthAdjust="spacingAndGlyphs">0.0</text>
<line x1="42.3" y1="310.66" x2="44.5" y2="310.66" stroke="#1f77b4" stroke-width="0.8"/>
<text x="39.3" y="314.36" font-size="9.3" fill="#1f77b4" stroke="#1f77b4" stroke-width="0.12" text-anchor="end" textLength="11.7" lengthAdjust="spacingAndGlyphs">0.2</text>
<line x1="42.3" y1="287.67" x2="44.5" y2="287.67" stroke="#1f77b4" stroke-width="0.8"/>
<text x="39.3" y="291.37" font-size="9.3" fill="#1f77b4" stroke="#1f77b4" stroke-width="0.12" text-anchor="end" textLength="11.7" lengthAdjust="spacingAndGlyphs">0.4</text>
<line x1="42.3" y1="264.68" x2="44.5" y2="264.68" stroke="#1f77b4" stroke-width="0.8"/>
<text x="39.3" y="268.38" font-size="9.3" fill="#1f77b4" stroke="#1f77b4" stroke-width="0.12" text-anchor="end" textLength="11.7" lengthAdjust="spacingAndGlyphs">0.6</text>
<line x1="42.3" y1="241.69" x2="44.5" y2="241.69" stroke="#1f77b4" stroke-width="0.8"/>
<text x="39.3" y="245.39" font-size="9.3" fill="#1f77b4" stroke="#1f77b4" stroke-width="0.12" text-anchor="end" textLength="11.7" lengthAdjust="spacingAndGlyphs">0.8</text>
<line x1="42.3" y1="218.70" x2="44.5" y2="218.70" stroke="#1f77b4" stroke-width="0.8"/>
<text x="39.3" y="222.4" font-size="9.3" fill="#1f77b4" stroke="#1f77b4" stroke-width="0.12" text-anchor="end" textLength="11.7" lengthAdjust="spacingAndGlyphs">1.0</text>
<line x1="284.9" y1="336.60" x2="287.2" y2="336.60" stroke="#ee2c2c" stroke-width="0.8"/>
<text x="289.1" y="339.9" font-size="9.0" fill="#ee2c2c" stroke="#ee2c2c" stroke-width="0.12" textLength="10.0" lengthAdjust="spacingAndGlyphs">−3</text>
<line x1="284.9" y1="316.62" x2="287.2" y2="316.62" stroke="#ee2c2c" stroke-width="0.8"/>
<text x="289.1" y="319.92" font-size="9.0" fill="#ee2c2c" stroke="#ee2c2c" stroke-width="0.12" textLength="10.0" lengthAdjust="spacingAndGlyphs">−2</text>
<line x1="284.9" y1="296.63" x2="287.2" y2="296.63" stroke="#ee2c2c" stroke-width="0.8"/>
<text x="289.1" y="299.93" font-size="9.0" fill="#ee2c2c" stroke="#ee2c2c" stroke-width="0.12" textLength="10.0" lengthAdjust="spacingAndGlyphs">−1</text>
<line x1="284.9" y1="276.65" x2="287.2" y2="276.65" stroke="#ee2c2c" stroke-width="0.8"/>
<text x="289.1" y="279.95" font-size="9.0" fill="#ee2c2c" stroke="#ee2c2c" stroke-width="0.12" textLength="4.6" lengthAdjust="spacingAndGlyphs">0</text>
<line x1="284.9" y1="256.67" x2="287.2" y2="256.67" stroke="#ee2c2c" stroke-width="0.8"/>
<text x="289.1" y="259.97" font-size="9.0" fill="#ee2c2c" stroke="#ee2c2c" stroke-width="0.12" textLength="4.6" lengthAdjust="spacingAndGlyphs">1</text>
<line x1="284.9" y1="236.68" x2="287.2" y2="236.68" stroke="#ee2c2c" stroke-width="0.8"/>
<text x="289.1" y="239.98" font-size="9.0" fill="#ee2c2c" stroke="#ee2c2c" stroke-width="0.12" textLength="4.6" lengthAdjust="spacingAndGlyphs">2</text>
<line x1="284.9" y1="216.70" x2="287.2" y2="216.70" stroke="#ee2c2c" stroke-width="0.8"/>
<text x="289.1" y="220.0" font-size="9.0" fill="#ee2c2c" stroke="#ee2c2c" stroke-width="0.12" textLength="4.6" lengthAdjust="spacingAndGlyphs">3</text>
<text x="308.6" y="277.2" font-size="8.9" fill="#ee2c2c" stroke="#ee2c2c" stroke-width="0.1" text-anchor="middle" textLength="82.5" lengthAdjust="spacingAndGlyphs" transform="rotate(-90 308.6 277.2)">Spectral phase [rad]</text>
<text x="22.1" y="277.2" font-size="8.9" fill="#1f77b4" stroke="#1f77b4" stroke-width="0.1" text-anchor="middle" textLength="83" lengthAdjust="spacingAndGlyphs" transform="rotate(-90 22.1 277.2)">Normalized intensity</text>
<text x="164.5" y="360.8" font-size="9.0" fill="#262626" stroke="#262626" stroke-width="0.12" text-anchor="middle" textLength="67.5" lengthAdjust="spacingAndGlyphs">Wavelengh [nm]</text>
<text x="166.4" y="205.6" font-size="10.0" fill="#000" stroke="#000" stroke-width="0.12" text-anchor="middle" textLength="159.8" lengthAdjust="spacingAndGlyphs">Reconstructed spectrum and phase</text>
<text x="0.0" y="217.1" font-size="14.7" fill="#000" stroke="#000" stroke-width="0.12">(c)</text>
<line x1="389.20" y1="212.9" x2="389.20" y2="339.5" stroke="#cccccc" stroke-width="0.8"/>
<line x1="433.40" y1="212.9" x2="433.40" y2="339.5" stroke="#cccccc" stroke-width="0.8"/>
<line x1="477.60" y1="212.9" x2="477.60" y2="339.5" stroke="#cccccc" stroke-width="0.8"/>
<line x1="521.80" y1="212.9" x2="521.80" y2="339.5" stroke="#cccccc" stroke-width="0.8"/>
<line x1="566.00" y1="212.9" x2="566.00" y2="339.5" stroke="#cccccc" stroke-width="0.8"/>
<line x1="357.0" y1="333.65" x2="596.8" y2="333.65" stroke="#cccccc" stroke-width="0.8"/>
<line x1="357.0" y1="310.66" x2="596.8" y2="310.66" stroke="#cccccc" stroke-width="0.8"/>
<line x1="357.0" y1="287.67" x2="596.8" y2="287.67" stroke="#cccccc" stroke-width="0.8"/>
<line x1="357.0" y1="264.68" x2="596.8" y2="264.68" stroke="#cccccc" stroke-width="0.8"/>
<line x1="357.0" y1="241.69" x2="596.8" y2="241.69" stroke="#cccccc" stroke-width="0.8"/>
<line x1="357.0" y1="218.70" x2="596.8" y2="218.70" stroke="#cccccc" stroke-width="0.8"/>
<path d="M368.43,333.45 L368.61,333.45 L368.79,333.45 L368.97,333.45 L369.15,333.45 L369.33,333.45 L369.51,333.45 L369.69,333.45 L369.87,333.45 L370.06,333.45 L370.24,333.45 L370.42,333.45 L370.60,333.45 L370.78,333.45 L370.96,333.45 L371.14,333.45 L371.32,333.45 L371.50,333.45 L371.68,333.45 L371.87,333.45 L372.05,333.45 L372.23,333.45 L372.41,333.45 L372.59,333.45 L372.77,333.45 L372.95,333.45 L373.13,333.45 L373.31,333.45 L373.49,333.45 L373.68,333.45 L373.86,333.45 L374.04,333.45 L374.22,333.45 L374.40,333.45 L374.58,333.45 L374.76,333.45 L374.94,333.45 L375.12,333.45 L375.30,333.45 L375.49,333.45 L375.67,333.45 L375.85,333.45 L376.03,333.45 L376.21,333.45 L376.39,333.45 L376.57,333.44 L376.75,333.44 L376.93,333.44 L377.11,333.44 L377.30,333.44 L377.48,333.44 L377.66,333.44 L377.84,333.44 L378.02,333.44 L378.20,333.44 L378.38,333.44 L378.56,333.44 L378.74,333.44 L378.92,333.44 L379.11,333.44 L379.29,333.44 L379.47,333.44 L379.65,333.44 L379.83,333.45 L380.01,333.45 L380.19,333.45 L380.37,333.45 L380.55,333.45 L380.73,333.45 L380.92,333.45 L381.10,333.45 L381.28,333.45 L381.46,333.45 L381.64,333.45 L381.82,333.45 L382.00,333.45 L382.18,333.45 L382.36,333.45 L382.54,333.45 L382.73,333.45 L382.91,333.45 L383.09,333.45 L383.27,333.45 L383.45,333.45 L383.63,333.45 L383.81,333.45 L383.99,333.45 L384.17,333.45 L384.35,333.45 L384.54,333.45 L384.72,333.45 L384.90,333.44 L385.08,333.44 L385.26,333.44 L385.44,333.44 L385.62,333.44 L385.80,333.44 L385.98,333.44 L386.16,333.44 L386.35,333.44 L386.53,333.44 L386.71,333.44 L386.89,333.44 L387.07,333.44 L387.25,333.44 L387.43,333.44 L387.61,333.44 L387.79,333.44 L387.97,333.44 L388.16,333.44 L388.34,333.44 L388.52,333.44 L388.70,333.44 L388.88,333.44 L389.06,333.44 L389.24,333.44 L389.42,333.44 L389.60,333.44 L389.78,333.44 L389.97,333.44 L390.15,333.44 L390.33,333.44 L390.51,333.45 L390.69,333.45 L390.87,333.45 L391.05,333.45 L391.23,333.45 L391.41,333.45 L391.59,333.45 L391.78,333.45 L391.96,333.45 L392.14,333.45 L392.32,333.45 L392.50,333.45 L392.68,333.45 L392.86,333.45 L393.04,333.45 L393.22,333.45 L393.40,333.45 L393.59,333.45 L393.77,333.44 L393.95,333.44 L394.13,333.44 L394.31,333.44 L394.49,333.44 L394.67,333.44 L394.85,333.44 L395.03,333.43 L395.21,333.43 L395.40,333.43 L395.58,333.43 L395.76,333.43 L395.94,333.43 L396.12,333.43 L396.30,333.43 L396.48,333.42 L396.66,333.42 L396.84,333.42 L397.02,333.42 L397.21,333.42 L397.39,333.42 L397.57,333.42 L397.75,333.42 L397.93,333.43 L398.11,333.43 L398.29,333.43 L398.47,333.43 L398.65,333.43 L398.83,333.43 L399.02,333.43 L399.20,333.43 L399.38,333.44 L399.56,333.44 L399.74,333.44 L399.92,333.44 L400.10,333.44 L400.28,333.44 L400.46,333.45 L400.64,333.45 L400.83,333.45 L401.01,333.45 L401.19,333.45 L401.37,333.45 L401.55,333.45 L401.73,333.45 L401.91,333.45 L402.09,333.45 L402.27,333.45 L402.45,333.45 L402.64,333.45 L402.82,333.44 L403.00,333.44 L403.18,333.44 L403.36,333.44 L403.54,333.44 L403.72,333.43 L403.90,333.43 L404.08,333.43 L404.26,333.42 L404.45,333.42 L404.63,333.42 L404.81,333.42 L404.99,333.41 L405.17,333.41 L405.35,333.41 L405.53,333.41 L405.71,333.40 L405.89,333.40 L406.07,333.40 L406.26,333.40 L406.44,333.40 L406.62,333.40 L406.80,333.40 L406.98,333.40 L407.16,333.40 L407.34,333.40 L407.52,333.40 L407.70,333.40 L407.88,333.41 L408.07,333.41 L408.25,333.41 L408.43,333.42 L408.61,333.42 L408.79,333.42 L408.97,333.42 L409.15,333.43 L409.33,333.43 L409.51,333.43 L409.69,333.44 L409.88,333.44 L410.06,333.44 L410.24,333.44 L410.42,333.45 L410.60,333.45 L410.78,333.45 L410.96,333.45 L411.14,333.45 L411.32,333.45 L411.50,333.45 L411.69,333.45 L411.87,333.45 L412.05,333.44 L412.23,333.44 L412.41,333.44 L412.59,333.43 L412.77,333.43 L412.95,333.42 L413.13,333.42 L413.31,333.41 L413.50,333.41 L413.68,333.40 L413.86,333.40 L414.04,333.39 L414.22,333.39 L414.40,333.38 L414.58,333.38 L414.76,333.37 L414.94,333.37 L415.12,333.36 L415.31,333.36 L415.49,333.36 L415.67,333.36 L415.85,333.35 L416.03,333.35 L416.21,333.35 L416.39,333.35 L416.57,333.36 L416.75,333.36 L416.93,333.36 L417.12,333.36 L417.30,333.37 L417.48,333.37 L417.66,333.38 L417.84,333.38 L418.02,333.39 L418.20,333.39 L418.38,333.40 L418.56,333.41 L418.74,333.41 L418.93,333.42 L419.11,333.42 L419.29,333.43 L419.47,333.43 L419.65,333.44 L419.83,333.44 L420.01,333.45 L420.19,333.45 L420.37,333.45 L420.55,333.45 L420.74,333.45 L420.92,333.45 L421.10,333.45 L421.28,333.44 L421.46,333.44 L421.64,333.43 L421.82,333.43 L422.00,333.42 L422.18,333.41 L422.36,333.41 L422.55,333.40 L422.73,333.39 L422.91,333.38 L423.09,333.37 L423.27,333.36 L423.45,333.35 L423.63,333.34 L423.81,333.33 L423.99,333.32 L424.17,333.31 L424.36,333.30 L424.54,333.29 L424.72,333.28 L424.90,333.28 L425.08,333.27 L425.26,333.27 L425.44,333.27 L425.62,333.27 L425.80,333.27 L425.98,333.27 L426.17,333.27 L426.35,333.28 L426.53,333.28 L426.71,333.29 L426.89,333.30 L427.07,333.31 L427.25,333.32 L427.43,333.33 L427.61,333.34 L427.79,333.35 L427.98,333.36 L428.16,333.37 L428.34,333.38 L428.52,333.39 L428.70,333.40 L428.88,333.41 L429.06,333.42 L429.24,333.43 L429.42,333.44 L429.60,333.44 L429.79,333.45 L429.97,333.45 L430.15,333.45 L430.33,333.45 L430.51,333.45 L430.69,333.44 L430.87,333.43 L431.05,333.42 L431.23,333.41 L431.41,333.40 L431.60,333.39 L431.78,333.37 L431.96,333.36 L432.14,333.34 L432.32,333.32 L432.50,333.30 L432.68,333.28 L432.86,333.26 L433.04,333.24 L433.22,333.22 L433.41,333.20 L433.59,333.19 L433.77,333.17 L433.95,333.15 L434.13,333.14 L434.31,333.13 L434.49,333.12 L434.67,333.11 L434.85,333.10 L435.03,333.10 L435.22,333.10 L435.40,333.10 L435.58,333.11 L435.76,333.11 L435.94,333.12 L436.12,333.13 L436.30,333.15 L436.48,333.16 L436.66,333.18 L436.84,333.20 L437.03,333.22 L437.21,333.24 L437.39,333.26 L437.57,333.29 L437.75,333.31 L437.93,333.33 L438.11,333.35 L438.29,333.37 L438.47,333.39 L438.65,333.41 L438.84,333.42 L439.02,333.43 L439.20,333.44 L439.38,333.45 L439.56,333.45 L439.74,333.45 L439.92,333.44 L440.10,333.44 L440.28,333.42 L440.46,333.41 L440.65,333.39 L440.83,333.37 L441.01,333.34 L441.19,333.31 L441.37,333.28 L441.55,333.25 L441.73,333.21 L441.91,333.17 L442.09,333.13 L442.28,333.09 L442.46,333.05 L442.64,333.01 L442.82,332.98 L443.00,332.94 L443.18,332.90 L443.36,332.87 L443.54,332.84 L443.72,332.81 L443.90,332.79 L444.09,332.77 L444.27,332.76 L444.45,332.75 L444.63,332.74 L444.81,332.74 L444.99,332.75 L445.17,332.76 L445.35,332.77 L445.53,332.79 L445.71,332.82 L445.90,332.85 L446.08,332.88 L446.26,332.92 L446.44,332.96 L446.62,333.00 L446.80,333.04 L446.98,333.09 L447.16,333.13 L447.34,333.18 L447.52,333.22 L447.71,333.26 L447.89,333.30 L448.07,333.34 L448.25,333.37 L448.43,333.39 L448.61,333.41 L448.79,333.42 L448.97,333.42 L449.15,333.42 L449.33,333.40 L449.52,333.38 L449.70,333.34 L449.88,333.30 L450.06,333.25 L450.24,333.18 L450.42,333.11 L450.60,333.03 L450.78,332.93 L450.96,332.83 L451.14,332.72 L451.33,332.60 L451.51,332.48 L451.69,332.35 L451.87,332.22 L452.05,332.08 L452.23,331.95 L452.41,331.81 L452.59,331.68 L452.77,331.55 L452.95,331.43 L453.14,331.32 L453.32,331.22 L453.50,331.13 L453.68,331.05 L453.86,330.99 L454.04,330.94 L454.22,330.91 L454.40,330.90 L454.58,330.91 L454.76,330.94 L454.95,330.98 L455.13,331.04 L455.31,331.12 L455.49,331.21 L455.67,331.32 L455.85,331.44 L456.03,331.56 L456.21,331.70 L456.39,331.84 L456.57,331.98 L456.76,332.12 L456.94,332.26 L457.12,332.39 L457.30,332.51 L457.48,332.62 L457.66,332.72 L457.84,332.80 L458.02,332.86 L458.20,332.90 L458.38,332.91 L458.57,332.90 L458.75,332.87 L458.93,332.80 L459.11,332.71 L459.29,332.59 L459.47,332.44 L459.65,332.27 L459.83,332.06 L460.01,331.83 L460.19,331.58 L460.38,331.30 L460.56,331.00 L460.74,330.68 L460.92,330.35 L461.10,330.01 L461.28,329.66 L461.46,329.31 L461.64,328.96 L461.82,328.62 L462.00,328.28 L462.19,327.96 L462.37,327.66 L462.55,327.37 L462.73,327.12 L462.91,326.90 L463.09,326.71 L463.27,326.55 L463.45,326.44 L463.63,326.37 L463.81,326.34 L464.00,326.36 L464.18,326.42 L464.36,326.53 L464.54,326.69 L464.72,326.89 L464.90,327.13 L465.08,327.41 L465.26,327.73 L465.44,328.08 L465.62,328.46 L465.81,328.87 L465.99,329.29 L466.17,329.73 L466.35,330.17 L466.53,330.62 L466.71,331.05 L466.89,331.47 L467.07,331.86 L467.25,332.22 L467.43,332.53 L467.62,332.80 L467.80,333.00 L467.98,333.14 L468.16,333.19 L468.34,333.16 L468.52,333.02 L468.70,332.78 L468.88,332.43 L469.06,331.95 L469.24,331.34 L469.43,330.59 L469.61,329.70 L469.79,328.65 L469.97,327.45 L470.15,326.08 L470.33,324.56 L470.51,322.86 L470.69,321.00 L470.87,318.98 L471.05,316.78 L471.24,314.43 L471.42,311.91 L471.60,309.24 L471.78,306.42 L471.96,303.46 L472.14,300.36 L472.32,297.15 L472.50,293.82 L472.68,290.39 L472.86,286.87 L473.05,283.28 L473.23,279.63 L473.41,275.94 L473.59,272.22 L473.77,268.50 L473.95,264.78 L474.13,261.10 L474.31,257.45 L474.49,253.87 L474.67,250.37 L474.86,246.97 L475.04,243.69 L475.22,240.55 L475.40,237.56 L475.58,234.73 L475.76,232.09 L475.94,229.65 L476.12,227.43 L476.30,225.42 L476.48,223.66 L476.67,222.14 L476.85,220.88 L477.03,219.88 L477.21,219.15 L477.39,218.69 L477.57,218.50 L477.75,218.60 L477.93,218.97 L478.11,219.61 L478.29,220.52 L478.48,221.70 L478.66,223.14 L478.84,224.82 L479.02,226.75 L479.20,228.90 L479.38,231.28 L479.56,233.85 L479.74,236.62 L479.92,239.56 L480.10,242.65 L480.29,245.89 L480.47,249.25 L480.65,252.72 L480.83,256.28 L481.01,259.90 L481.19,263.58 L481.37,267.29 L481.55,271.01 L481.73,274.73 L481.91,278.43 L482.10,282.10 L482.28,285.71 L482.46,289.25 L482.64,292.71 L482.82,296.07 L483.00,299.33 L483.18,302.46 L483.36,305.47 L483.54,308.34 L483.72,311.06 L483.91,313.63 L484.09,316.03 L484.27,318.28 L484.45,320.36 L484.63,322.28 L484.81,324.02 L484.99,325.60 L485.17,327.02 L485.35,328.27 L485.53,329.37 L485.72,330.31 L485.90,331.11 L486.08,331.77 L486.26,332.29 L486.44,332.68 L486.62,332.96 L486.80,333.12 L486.98,333.19 L487.16,333.16 L487.34,333.05 L487.53,332.87 L487.71,332.62 L487.89,332.32 L488.07,331.98 L488.25,331.60 L488.43,331.19 L488.61,330.76 L488.79,330.32 L488.97,329.87 L489.15,329.44 L489.34,329.01 L489.52,328.59 L489.70,328.20 L489.88,327.84 L490.06,327.51 L490.24,327.22 L490.42,326.96 L490.60,326.75 L490.78,326.58 L490.96,326.45 L491.15,326.38 L491.33,326.34 L491.51,326.35 L491.69,326.41 L491.87,326.51 L492.05,326.65 L492.23,326.83 L492.41,327.04 L492.59,327.29 L492.77,327.56 L492.96,327.86 L493.14,328.17 L493.32,328.51 L493.50,328.85 L493.68,329.20 L493.86,329.55 L494.04,329.90 L494.22,330.24 L494.40,330.58 L494.58,330.90 L494.77,331.20 L494.95,331.49 L495.13,331.75 L495.31,331.99 L495.49,332.20 L495.67,332.39 L495.85,332.55 L496.03,332.68 L496.21,332.78 L496.39,332.85 L496.58,332.89 L496.76,332.91 L496.94,332.91 L497.12,332.87 L497.30,332.82 L497.48,332.75 L497.66,332.66 L497.84,332.55 L498.02,332.43 L498.20,332.30 L498.39,332.17 L498.57,332.03 L498.75,331.88 L498.93,331.74 L499.11,331.61 L499.29,331.48 L499.47,331.35 L499.65,331.24 L499.83,331.15 L500.01,331.06 L500.20,331.00 L500.38,330.95 L500.56,330.92 L500.74,330.90 L500.92,330.91 L501.10,330.93 L501.28,330.97 L501.46,331.03 L501.64,331.10 L501.82,331.19 L502.01,331.28 L502.19,331.39 L502.37,331.51 L502.55,331.64 L502.73,331.77 L502.91,331.90 L503.09,332.04 L503.27,332.17 L503.45,332.31 L503.63,332.44 L503.82,332.56 L504.00,332.68 L504.18,332.80 L504.36,332.90 L504.54,333.00 L504.72,333.08 L504.90,333.16 L505.08,333.23 L505.26,333.29 L505.44,333.33 L505.63,333.37 L505.81,333.39 L505.99,333.41 L506.17,333.42 L506.35,333.42 L506.53,333.41 L506.71,333.40 L506.89,333.37 L507.07,333.35 L507.25,333.31 L507.44,333.28 L507.62,333.24 L507.80,333.19 L507.98,333.15 L508.16,333.10 L508.34,333.06 L508.52,333.01 L508.70,332.97 L508.88,332.93 L509.06,332.89 L509.25,332.86 L509.43,332.83 L509.61,332.80 L509.79,332.78 L509.97,332.76 L510.15,332.75 L510.33,332.74 L510.51,332.74 L510.69,332.74 L510.87,332.75 L511.06,332.77 L511.24,332.78 L511.42,332.80 L511.60,332.83 L511.78,332.86 L511.96,332.89 L512.14,332.93 L512.32,332.96 L512.50,333.00 L512.68,333.04 L512.87,333.08 L513.05,333.12 L513.23,333.16 L513.41,333.20 L513.59,333.23 L513.77,333.27 L513.95,333.30 L514.13,333.33 L514.31,333.36 L514.50,333.38 L514.68,333.40 L514.86,333.42 L515.04,333.43 L515.22,333.44 L515.40,333.45 L515.58,333.45 L515.76,333.45 L515.94,333.44 L516.12,333.44 L516.31,333.43 L516.49,333.41 L516.67,333.40 L516.85,333.38 L517.03,333.36 L517.21,333.34 L517.39,333.32 L517.57,333.29 L517.75,333.27 L517.93,333.25 L518.12,333.23 L518.30,333.21 L518.48,333.19 L518.66,333.17 L518.84,333.15 L519.02,333.14 L519.20,333.13 L519.38,333.12 L519.56,333.11 L519.74,333.10 L519.93,333.10 L520.11,333.10 L520.29,333.10 L520.47,333.11 L520.65,333.11 L520.83,333.12 L521.01,333.14 L521.19,333.15 L521.37,333.16 L521.55,333.18 L521.74,333.20 L521.92,333.22 L522.10,333.24 L522.28,333.25 L522.46,333.27 L522.64,333.29 L522.82,333.31 L523.00,333.33 L523.18,333.35 L523.36,333.37 L523.55,333.38 L523.73,333.40 L523.91,333.41 L524.09,333.42 L524.27,333.43 L524.45,333.44 L524.63,333.44 L524.81,333.45 L524.99,333.45 L525.17,333.45 L525.36,333.45 L525.54,333.45 L525.72,333.44 L525.90,333.43 L526.08,333.43 L526.26,333.42 L526.44,333.41 L526.62,333.40 L526.80,333.39 L526.98,333.38 L527.17,333.36 L527.35,333.35 L527.53,333.34 L527.71,333.33 L527.89,333.32 L528.07,333.31 L528.25,333.30 L528.43,333.29 L528.61,333.28 L528.79,333.28 L528.98,333.27 L529.16,333.27 L529.34,333.27 L529.52,333.27 L529.70,333.27 L529.88,333.27 L530.06,333.27 L530.24,333.28 L530.42,333.28 L530.60,333.29 L530.79,333.30 L530.97,333.30 L531.15,333.31 L531.33,333.32 L531.51,333.33 L531.69,333.34 L531.87,333.35 L532.05,333.36 L532.23,333.37 L532.41,333.38 L532.60,333.39 L532.78,333.40 L532.96,333.41 L533.14,333.42 L533.32,333.43 L533.50,333.43 L533.68,333.44 L533.86,333.44 L534.04,333.45 L534.22,333.45 L534.41,333.45 L534.59,333.45 L534.77,333.45 L534.95,333.45 L535.13,333.45 L535.31,333.44 L535.49,333.44 L535.67,333.44 L535.85,333.43 L536.03,333.43 L536.22,333.42 L536.40,333.41 L536.58,333.41 L536.76,333.40 L536.94,333.40 L537.12,333.39 L537.30,333.38 L537.48,333.38 L537.66,333.37 L537.84,333.37 L538.03,333.36 L538.21,333.36 L538.39,333.36 L538.57,333.36 L538.75,333.35 L538.93,333.35 L539.11,333.35 L539.29,333.35 L539.47,333.36 L539.65,333.36 L539.84,333.36 L540.02,333.36 L540.20,333.37 L540.38,333.37 L540.56,333.38 L540.74,333.38 L540.92,333.39 L541.10,333.39 L541.28,333.40 L541.46,333.40 L541.65,333.41 L541.83,333.41 L542.01,333.42 L542.19,333.42 L542.37,333.43 L542.55,333.43 L542.73,333.44 L542.91,333.44 L543.09,333.44 L543.27,333.44 L543.46,333.45 L543.64,333.45 L543.82,333.45 L544.00,333.45 L544.18,333.45 L544.36,333.45 L544.54,333.45 L544.72,333.45 L544.90,333.45 L545.08,333.44 L545.27,333.44 L545.45,333.44 L545.63,333.44 L545.81,333.43 L545.99,333.43 L546.17,333.43 L546.35,333.42 L546.53,333.42 L546.71,333.42 L546.89,333.41 L547.08,333.41 L547.26,333.41 L547.44,333.41 L547.62,333.40 L547.80,333.40 L547.98,333.40 L548.16,333.40 L548.34,333.40 L548.52,333.40 L548.70,333.40 L548.89,333.40 L549.07,333.40 L549.25,333.40 L549.43,333.40 L549.61,333.40 L549.79,333.41 L549.97,333.41 L550.15,333.41 L550.33,333.41 L550.51,333.42 L550.70,333.42 L550.88,333.42 L551.06,333.43 L551.24,333.43 L551.42,333.43 L551.60,333.43 L551.78,333.44 L551.96,333.44 L552.14,333.44 L552.32,333.44 L552.51,333.45 L552.69,333.45 L552.87,333.45 L553.05,333.45 L553.23,333.45 L553.41,333.45 L553.59,333.45 L553.77,333.45 L553.95,333.45 L554.13,333.45 L554.32,333.45 L554.50,333.45 L554.68,333.45 L554.86,333.44 L555.04,333.44 L555.22,333.44 L555.40,333.44 L555.58,333.44 L555.76,333.44 L555.94,333.43 L556.13,333.43 L556.31,333.43 L556.49,333.43 L556.67,333.43 L556.85,333.43 L557.03,333.43 L557.21,333.43 L557.39,333.42 L557.57,333.42 L557.75,333.42 L557.94,333.42 L558.12,333.42 L558.30,333.42 L558.48,333.42 L558.66,333.42 L558.84,333.43 L559.02,333.43 L559.20,333.43 L559.38,333.43 L559.56,333.43 L559.75,333.43 L559.93,333.43 L560.11,333.43 L560.29,333.44 L560.47,333.44 L560.65,333.44 L560.83,333.44 L561.01,333.44 L561.19,333.44 L561.37,333.44 L561.56,333.44 L561.74,333.45 L561.92,333.45 L562.10,333.45 L562.28,333.45 L562.46,333.45 L562.64,333.45 L562.82,333.45 L563.00,333.45 L563.18,333.45 L563.37,333.45 L563.55,333.45 L563.73,333.45 L563.91,333.45 L564.09,333.45 L564.27,333.45 L564.45,333.45 L564.63,333.45 L564.81,333.45 L564.99,333.44 L565.18,333.44 L565.36,333.44 L565.54,333.44 L565.72,333.44 L565.90,333.44 L566.08,333.44 L566.26,333.44 L566.44,333.44 L566.62,333.44 L566.80,333.44 L566.99,333.44 L567.17,333.44 L567.35,333.44 L567.53,333.44 L567.71,333.44 L567.89,333.44 L568.07,333.44 L568.25,333.44 L568.43,333.44 L568.61,333.44 L568.80,333.44 L568.98,333.44 L569.16,333.44 L569.34,333.44 L569.52,333.44 L569.70,333.44 L569.88,333.44 L570.06,333.44 L570.24,333.44 L570.42,333.45 L570.61,333.45 L570.79,333.45 L570.97,333.45 L571.15,333.45 L571.33,333.45 L571.51,333.45 L571.69,333.45 L571.87,333.45 L572.05,333.45 L572.23,333.45 L572.42,333.45 L572.60,333.45 L572.78,333.45 L572.96,333.45 L573.14,333.45 L573.32,333.45 L573.50,333.45 L573.68,333.45 L573.86,333.45 L574.04,333.45 L574.23,333.45 L574.41,333.45 L574.59,333.45 L574.77,333.45 L574.95,333.45 L575.13,333.45 L575.31,333.45 L575.49,333.44 L575.67,333.44 L575.85,333.44 L576.04,333.44 L576.22,333.44 L576.40,333.44 L576.58,333.44 L576.76,333.44 L576.94,333.44 L577.12,333.44 L577.30,333.44 L577.48,333.44 L577.66,333.44 L577.85,333.44 L578.03,333.44 L578.21,333.44 L578.39,333.44 L578.57,333.44 L578.75,333.45 L578.93,333.45 L579.11,333.45 L579.29,333.45 L579.47,333.45 L579.66,333.45 L579.84,333.45 L580.02,333.45 L580.20,333.45 L580.38,333.45 L580.56,333.45 L580.74,333.45 L580.92,333.45 L581.10,333.45 L581.28,333.45 L581.47,333.45 L581.65,333.45 L581.83,333.45 L582.01,333.45 L582.19,333.45 L582.37,333.45 L582.55,333.45 L582.73,333.45 L582.91,333.45 L583.09,333.45 L583.28,333.45 L583.46,333.45 L583.64,333.45 L583.82,333.45 L584.00,333.45 L584.18,333.45 L584.36,333.45 L584.54,333.45 L584.72,333.45 L584.90,333.45 L585.09,333.45 L585.27,333.45 L585.45,333.45" fill="none" stroke="#1f77b4" stroke-width="2.1" stroke-dasharray="1.5 3.17"/>
<path d="M368.43,333.43 L368.61,333.43 L368.79,333.43 L368.97,333.44 L369.15,333.44 L369.33,333.44 L369.51,333.44 L369.69,333.44 L369.87,333.44 L370.06,333.44 L370.24,333.44 L370.42,333.44 L370.60,333.45 L370.78,333.45 L370.96,333.45 L371.14,333.45 L371.32,333.45 L371.50,333.45 L371.68,333.45 L371.87,333.45 L372.05,333.45 L372.23,333.45 L372.41,333.45 L372.59,333.45 L372.77,333.45 L372.95,333.45 L373.13,333.45 L373.31,333.45 L373.49,333.44 L373.68,333.44 L373.86,333.44 L374.04,333.44 L374.22,333.44 L374.40,333.44 L374.58,333.43 L374.76,333.43 L374.94,333.43 L375.12,333.43 L375.30,333.43 L375.49,333.43 L375.67,333.43 L375.85,333.42 L376.03,333.42 L376.21,333.42 L376.39,333.42 L376.57,333.42 L376.75,333.42 L376.93,333.42 L377.11,333.42 L377.30,333.42 L377.48,333.42 L377.66,333.42 L377.84,333.42 L378.02,333.42 L378.20,333.42 L378.38,333.43 L378.56,333.43 L378.74,333.43 L378.92,333.43 L379.11,333.43 L379.29,333.43 L379.47,333.44 L379.65,333.44 L379.83,333.44 L380.01,333.44 L380.19,333.44 L380.37,333.44 L380.55,333.45 L380.73,333.45 L380.92,333.45 L381.10,333.45 L381.28,333.45 L381.46,333.45 L381.64,333.45 L381.82,333.45 L382.00,333.45 L382.18,333.45 L382.36,333.45 L382.54,333.45 L382.73,333.44 L382.91,333.44 L383.09,333.44 L383.27,333.44 L383.45,333.44 L383.63,333.43 L383.81,333.43 L383.99,333.43 L384.17,333.43 L384.35,333.42 L384.54,333.42 L384.72,333.42 L384.90,333.42 L385.08,333.41 L385.26,333.41 L385.44,333.41 L385.62,333.41 L385.80,333.41 L385.98,333.41 L386.16,333.40 L386.35,333.40 L386.53,333.40 L386.71,333.40 L386.89,333.40 L387.07,333.40 L387.25,333.41 L387.43,333.41 L387.61,333.41 L387.79,333.41 L387.97,333.41 L388.16,333.41 L388.34,333.42 L388.52,333.42 L388.70,333.42 L388.88,333.43 L389.06,333.43 L389.24,333.43 L389.42,333.43 L389.60,333.44 L389.78,333.44 L389.97,333.44 L390.15,333.44 L390.33,333.45 L390.51,333.45 L390.69,333.45 L390.87,333.45 L391.05,333.45 L391.23,333.45 L391.41,333.45 L391.59,333.45 L391.78,333.45 L391.96,333.45 L392.14,333.44 L392.32,333.44 L392.50,333.44 L392.68,333.44 L392.86,333.43 L393.04,333.43 L393.22,333.43 L393.40,333.42 L393.59,333.42 L393.77,333.41 L393.95,333.41 L394.13,333.41 L394.31,333.40 L394.49,333.40 L394.67,333.40 L394.85,333.39 L395.03,333.39 L395.21,333.39 L395.40,333.38 L395.58,333.38 L395.76,333.38 L395.94,333.38 L396.12,333.38 L396.30,333.38 L396.48,333.38 L396.66,333.38 L396.84,333.38 L397.02,333.38 L397.21,333.39 L397.39,333.39 L397.57,333.39 L397.75,333.40 L397.93,333.40 L398.11,333.40 L398.29,333.41 L398.47,333.41 L398.65,333.42 L398.83,333.42 L399.02,333.43 L399.20,333.43 L399.38,333.43 L399.56,333.44 L399.74,333.44 L399.92,333.44 L400.10,333.45 L400.28,333.45 L400.46,333.45 L400.64,333.45 L400.83,333.45 L401.01,333.45 L401.19,333.45 L401.37,333.45 L401.55,333.44 L401.73,333.44 L401.91,333.44 L402.09,333.43 L402.27,333.43 L402.45,333.42 L402.64,333.42 L402.82,333.41 L403.00,333.41 L403.18,333.40 L403.36,333.40 L403.54,333.39 L403.72,333.38 L403.90,333.38 L404.08,333.37 L404.26,333.37 L404.45,333.36 L404.63,333.36 L404.81,333.35 L404.99,333.35 L405.17,333.35 L405.35,333.34 L405.53,333.34 L405.71,333.34 L405.89,333.34 L406.07,333.34 L406.26,333.34 L406.44,333.34 L406.62,333.35 L406.80,333.35 L406.98,333.36 L407.16,333.36 L407.34,333.37 L407.52,333.37 L407.70,333.38 L407.88,333.38 L408.07,333.39 L408.25,333.40 L408.43,333.41 L408.61,333.41 L408.79,333.42 L408.97,333.42 L409.15,333.43 L409.33,333.43 L409.51,333.44 L409.69,333.44 L409.88,333.45 L410.06,333.45 L410.24,333.45 L410.42,333.45 L410.60,333.45 L410.78,333.45 L410.96,333.45 L411.14,333.44 L411.32,333.44 L411.50,333.43 L411.69,333.43 L411.87,333.42 L412.05,333.41 L412.23,333.40 L412.41,333.39 L412.59,333.38 L412.77,333.38 L412.95,333.37 L413.13,333.36 L413.31,333.35 L413.50,333.34 L413.68,333.33 L413.86,333.32 L414.04,333.31 L414.22,333.30 L414.40,333.30 L414.58,333.29 L414.76,333.29 L414.94,333.28 L415.12,333.28 L415.31,333.28 L415.49,333.28 L415.67,333.28 L415.85,333.28 L416.03,333.29 L416.21,333.29 L416.39,333.30 L416.57,333.30 L416.75,333.31 L416.93,333.32 L417.12,333.33 L417.30,333.34 L417.48,333.35 L417.66,333.36 L417.84,333.37 L418.02,333.38 L418.20,333.39 L418.38,333.40 L418.56,333.41 L418.74,333.42 L418.93,333.43 L419.11,333.43 L419.29,333.44 L419.47,333.44 L419.65,333.45 L419.83,333.45 L420.01,333.45 L420.19,333.45 L420.37,333.45 L420.55,333.44 L420.74,333.44 L420.92,333.43 L421.10,333.42 L421.28,333.41 L421.46,333.40 L421.64,333.39 L421.82,333.38 L422.00,333.36 L422.18,333.35 L422.36,333.33 L422.55,333.32 L422.73,333.30 L422.91,333.29 L423.09,333.27 L423.27,333.26 L423.45,333.24 L423.63,333.23 L423.81,333.22 L423.99,333.21 L424.17,333.20 L424.36,333.19 L424.54,333.18 L424.72,333.18 L424.90,333.18 L425.08,333.18 L425.26,333.18 L425.44,333.18 L425.62,333.19 L425.80,333.19 L425.98,333.20 L426.17,333.21 L426.35,333.22 L426.53,333.24 L426.71,333.25 L426.89,333.27 L427.07,333.28 L427.25,333.30 L427.43,333.32 L427.61,333.33 L427.79,333.35 L427.98,333.37 L428.16,333.38 L428.34,333.40 L428.52,333.41 L428.70,333.42 L428.88,333.43 L429.06,333.44 L429.24,333.45 L429.42,333.45 L429.60,333.45 L429.79,333.45 L429.97,333.44 L430.15,333.44 L430.33,333.43 L430.51,333.42 L430.69,333.40 L430.87,333.39 L431.05,333.37 L431.23,333.35 L431.41,333.33 L431.60,333.31 L431.78,333.28 L431.96,333.26 L432.14,333.23 L432.32,333.20 L432.50,333.18 L432.68,333.15 L432.86,333.13 L433.04,333.10 L433.22,333.08 L433.41,333.06 L433.59,333.04 L433.77,333.03 L433.95,333.01 L434.13,333.00 L434.31,333.00 L434.49,332.99 L434.67,332.99 L434.85,332.99 L435.03,333.00 L435.22,333.00 L435.40,333.02 L435.58,333.03 L435.76,333.05 L435.94,333.07 L436.12,333.09 L436.30,333.11 L436.48,333.14 L436.66,333.17 L436.84,333.19 L437.03,333.22 L437.21,333.25 L437.39,333.28 L437.57,333.31 L437.75,333.33 L437.93,333.36 L438.11,333.38 L438.29,333.40 L438.47,333.42 L438.65,333.43 L438.84,333.44 L439.02,333.45 L439.20,333.45 L439.38,333.45 L439.56,333.44 L439.74,333.43 L439.92,333.42 L440.10,333.40 L440.28,333.37 L440.46,333.34 L440.65,333.31 L440.83,333.28 L441.01,333.24 L441.19,333.20 L441.37,333.15 L441.55,333.11 L441.73,333.06 L441.91,333.02 L442.09,332.97 L442.28,332.92 L442.46,332.88 L442.64,332.84 L442.82,332.79 L443.00,332.76 L443.18,332.72 L443.36,332.69 L443.54,332.67 L443.72,332.64 L443.90,332.63 L444.09,332.62 L444.27,332.61 L444.45,332.62 L444.63,332.62 L444.81,332.64 L444.99,332.65 L445.17,332.68 L445.35,332.71 L445.53,332.74 L445.71,332.78 L445.90,332.83 L446.08,332.87 L446.26,332.92 L446.44,332.97 L446.62,333.02 L446.80,333.08 L446.98,333.13 L447.16,333.18 L447.34,333.23 L447.52,333.28 L447.71,333.32 L447.89,333.36 L448.07,333.39 L448.25,333.41 L448.43,333.43 L448.61,333.45 L448.79,333.45 L448.97,333.45 L449.15,333.43 L449.33,333.41 L449.52,333.38 L449.70,333.35 L449.88,333.30 L450.06,333.24 L450.24,333.18 L450.42,333.11 L450.60,333.03 L450.78,332.95 L450.96,332.86 L451.14,332.77 L451.33,332.68 L451.51,332.58 L451.69,332.48 L451.87,332.39 L452.05,332.29 L452.23,332.20 L452.41,332.11 L452.59,332.03 L452.77,331.95 L452.95,331.88 L453.14,331.82 L453.32,331.77 L453.50,331.73 L453.68,331.70 L453.86,331.69 L454.04,331.68 L454.22,331.69 L454.40,331.71 L454.58,331.74 L454.76,331.79 L454.95,331.84 L455.13,331.91 L455.31,331.99 L455.49,332.08 L455.67,332.17 L455.85,332.28 L456.03,332.38 L456.21,332.49 L456.39,332.61 L456.57,332.72 L456.76,332.83 L456.94,332.94 L457.12,333.05 L457.30,333.14 L457.48,333.23 L457.66,333.30 L457.84,333.36 L458.02,333.41 L458.20,333.44 L458.38,333.45 L458.57,333.44 L458.75,333.41 L458.93,333.36 L459.11,333.29 L459.29,333.20 L459.47,333.08 L459.65,332.94 L459.83,332.78 L460.01,332.60 L460.19,332.40 L460.38,332.18 L460.56,331.95 L460.74,331.70 L460.92,331.44 L461.10,331.17 L461.28,330.90 L461.46,330.62 L461.64,330.34 L461.82,330.06 L462.00,329.79 L462.19,329.53 L462.37,329.28 L462.55,329.05 L462.73,328.84 L462.91,328.65 L463.09,328.49 L463.27,328.36 L463.45,328.25 L463.63,328.19 L463.81,328.15 L464.00,328.16 L464.18,328.20 L464.36,328.28 L464.54,328.40 L464.72,328.55 L464.90,328.75 L465.08,328.97 L465.26,329.23 L465.44,329.52 L465.62,329.83 L465.81,330.17 L465.99,330.52 L466.17,330.88 L466.35,331.24 L466.53,331.60 L466.71,331.95 L466.89,332.29 L467.07,332.60 L467.25,332.87 L467.43,333.10 L467.62,333.28 L467.80,333.40 L467.98,333.45 L468.16,333.42 L468.34,333.30 L468.52,333.08 L468.70,332.76 L468.88,332.32 L469.06,331.75 L469.24,331.06 L469.43,330.23 L469.61,329.25 L469.79,328.13 L469.97,326.85 L470.15,325.42 L470.33,323.82 L470.51,322.06 L470.69,320.14 L470.87,318.06 L471.05,315.81 L471.24,313.41 L471.42,310.86 L471.60,308.15 L471.78,305.31 L471.96,302.32 L472.14,299.22 L472.32,295.99 L472.50,292.66 L472.68,289.24 L472.86,285.74 L473.05,282.17 L473.23,278.55 L473.41,274.89 L473.59,271.22 L473.77,267.54 L473.95,263.87 L474.13,260.23 L474.31,256.65 L474.49,253.12 L474.67,249.69 L474.86,246.35 L475.04,243.13 L475.22,240.05 L475.40,237.12 L475.58,234.36 L475.76,231.77 L475.94,229.39 L476.12,227.21 L476.30,225.26 L476.48,223.53 L476.67,222.05 L476.85,220.82 L477.03,219.84 L477.21,219.13 L477.39,218.68 L477.57,218.50 L477.75,218.59 L477.93,218.95 L478.11,219.58 L478.29,220.47 L478.48,221.62 L478.66,223.02 L478.84,224.67 L479.02,226.55 L479.20,228.66 L479.38,230.97 L479.56,233.49 L479.74,236.20 L479.92,239.08 L480.10,242.11 L480.29,245.29 L480.47,248.59 L480.65,251.99 L480.83,255.49 L481.01,259.06 L481.19,262.68 L481.37,266.34 L481.55,270.02 L481.73,273.70 L481.91,277.36 L482.10,281.00 L482.28,284.58 L482.46,288.11 L482.64,291.56 L482.82,294.92 L483.00,298.18 L483.18,301.33 L483.36,304.35 L483.54,307.24 L483.72,309.99 L483.91,312.60 L484.09,315.05 L484.27,317.34 L484.45,319.48 L484.63,321.45 L484.81,323.26 L484.99,324.91 L485.17,326.40 L485.35,327.73 L485.53,328.90 L485.72,329.93 L485.90,330.80 L486.08,331.54 L486.26,332.15 L486.44,332.62 L486.62,332.99 L486.80,333.24 L486.98,333.39 L487.16,333.45 L487.34,333.42 L487.53,333.33 L487.71,333.17 L487.89,332.95 L488.07,332.69 L488.25,332.39 L488.43,332.06 L488.61,331.72 L488.79,331.36 L488.97,330.99 L489.15,330.63 L489.34,330.28 L489.52,329.94 L489.70,329.62 L489.88,329.32 L490.06,329.05 L490.24,328.82 L490.42,328.61 L490.60,328.44 L490.78,328.31 L490.96,328.22 L491.15,328.17 L491.33,328.15 L491.51,328.17 L491.69,328.23 L491.87,328.32 L492.05,328.44 L492.23,328.60 L492.41,328.78 L492.59,328.98 L492.77,329.20 L492.96,329.45 L493.14,329.70 L493.32,329.97 L493.50,330.25 L493.68,330.53 L493.86,330.81 L494.04,331.08 L494.22,331.36 L494.40,331.62 L494.58,331.87 L494.77,332.11 L494.95,332.33 L495.13,332.54 L495.31,332.73 L495.49,332.89 L495.67,333.04 L495.85,333.16 L496.03,333.26 L496.21,333.34 L496.39,333.40 L496.58,333.43 L496.76,333.45 L496.94,333.44 L497.12,333.42 L497.30,333.38 L497.48,333.32 L497.66,333.25 L497.84,333.17 L498.02,333.08 L498.20,332.98 L498.39,332.87 L498.57,332.76 L498.75,332.65 L498.93,332.53 L499.11,332.42 L499.29,332.31 L499.47,332.21 L499.65,332.11 L499.83,332.02 L500.01,331.94 L500.20,331.86 L500.38,331.80 L500.56,331.76 L500.74,331.72 L500.92,331.69 L501.10,331.68 L501.28,331.68 L501.46,331.70 L501.64,331.72 L501.82,331.76 L502.01,331.81 L502.19,331.86 L502.37,331.93 L502.55,332.00 L502.73,332.08 L502.91,332.17 L503.09,332.26 L503.27,332.36 L503.45,332.45 L503.63,332.55 L503.82,332.65 L504.00,332.74 L504.18,332.83 L504.36,332.92 L504.54,333.01 L504.72,333.09 L504.90,333.16 L505.08,333.22 L505.26,333.28 L505.44,333.33 L505.63,333.37 L505.81,333.40 L505.99,333.43 L506.17,333.44 L506.35,333.45 L506.53,333.45 L506.71,333.44 L506.89,333.42 L507.07,333.40 L507.25,333.37 L507.44,333.33 L507.62,333.29 L507.80,333.24 L507.98,333.20 L508.16,333.15 L508.34,333.09 L508.52,333.04 L508.70,332.99 L508.88,332.94 L509.06,332.89 L509.25,332.84 L509.43,332.80 L509.61,332.76 L509.79,332.72 L509.97,332.69 L510.15,332.66 L510.33,332.64 L510.51,332.63 L510.69,332.62 L510.87,332.61 L511.06,332.62 L511.24,332.63 L511.42,332.64 L511.60,332.66 L511.78,332.68 L511.96,332.71 L512.14,332.75 L512.32,332.78 L512.50,332.82 L512.68,332.86 L512.87,332.91 L513.05,332.95 L513.23,333.00 L513.41,333.05 L513.59,333.09 L513.77,333.14 L513.95,333.18 L514.13,333.23 L514.31,333.26 L514.50,333.30 L514.68,333.33 L514.86,333.36 L515.04,333.39 L515.22,333.41 L515.40,333.43 L515.58,333.44 L515.76,333.45 L515.94,333.45 L516.12,333.45 L516.31,333.44 L516.49,333.44 L516.67,333.42 L516.85,333.41 L517.03,333.39 L517.21,333.37 L517.39,333.34 L517.57,333.32 L517.75,333.29 L517.93,333.26 L518.12,333.23 L518.30,333.20 L518.48,333.18 L518.66,333.15 L518.84,333.12 L519.02,333.10 L519.20,333.07 L519.38,333.05 L519.56,333.04 L519.74,333.02 L519.93,333.01 L520.11,333.00 L520.29,332.99 L520.47,332.99 L520.65,332.99 L520.83,332.99 L521.01,333.00 L521.19,333.01 L521.37,333.02 L521.55,333.04 L521.74,333.06 L521.92,333.08 L522.10,333.10 L522.28,333.12 L522.46,333.15 L522.64,333.17 L522.82,333.20 L523.00,333.22 L523.18,333.25 L523.36,333.27 L523.55,333.30 L523.73,333.32 L523.91,333.34 L524.09,333.36 L524.27,333.38 L524.45,333.40 L524.63,333.41 L524.81,333.43 L524.99,333.44 L525.17,333.44 L525.36,333.45 L525.54,333.45 L525.72,333.45 L525.90,333.45 L526.08,333.44 L526.26,333.43 L526.44,333.43 L526.62,333.41 L526.80,333.40 L526.98,333.39 L527.17,333.37 L527.35,333.36 L527.53,333.34 L527.71,333.32 L527.89,333.31 L528.07,333.29 L528.25,333.27 L528.43,333.26 L528.61,333.24 L528.79,333.23 L528.98,333.22 L529.16,333.20 L529.34,333.20 L529.52,333.19 L529.70,333.18 L529.88,333.18 L530.06,333.18 L530.24,333.18 L530.42,333.18 L530.60,333.18 L530.79,333.19 L530.97,333.19 L531.15,333.20 L531.33,333.21 L531.51,333.22 L531.69,333.24 L531.87,333.25 L532.05,333.27 L532.23,333.28 L532.41,333.30 L532.60,333.31 L532.78,333.33 L532.96,333.34 L533.14,333.36 L533.32,333.37 L533.50,333.38 L533.68,333.40 L533.86,333.41 L534.04,333.42 L534.22,333.43 L534.41,333.44 L534.59,333.44 L534.77,333.45 L534.95,333.45 L535.13,333.45 L535.31,333.45 L535.49,333.45 L535.67,333.45 L535.85,333.44 L536.03,333.44 L536.22,333.43 L536.40,333.42 L536.58,333.41 L536.76,333.40 L536.94,333.39 L537.12,333.38 L537.30,333.37 L537.48,333.36 L537.66,333.35 L537.84,333.34 L538.03,333.33 L538.21,333.32 L538.39,333.31 L538.57,333.30 L538.75,333.30 L538.93,333.29 L539.11,333.29 L539.29,333.28 L539.47,333.28 L539.65,333.28 L539.84,333.28 L540.02,333.28 L540.20,333.28 L540.38,333.29 L540.56,333.29 L540.74,333.29 L540.92,333.30 L541.10,333.31 L541.28,333.32 L541.46,333.32 L541.65,333.33 L541.83,333.34 L542.01,333.35 L542.19,333.36 L542.37,333.37 L542.55,333.38 L542.73,333.39 L542.91,333.40 L543.09,333.41 L543.27,333.42 L543.46,333.42 L543.64,333.43 L543.82,333.44 L544.00,333.44 L544.18,333.44 L544.36,333.45 L544.54,333.45 L544.72,333.45 L544.90,333.45 L545.08,333.45 L545.27,333.45 L545.45,333.44 L545.63,333.44 L545.81,333.44 L545.99,333.43 L546.17,333.43 L546.35,333.42 L546.53,333.41 L546.71,333.41 L546.89,333.40 L547.08,333.39 L547.26,333.39 L547.44,333.38 L547.62,333.37 L547.80,333.37 L547.98,333.36 L548.16,333.36 L548.34,333.35 L548.52,333.35 L548.70,333.35 L548.89,333.34 L549.07,333.34 L549.25,333.34 L549.43,333.34 L549.61,333.34 L549.79,333.34 L549.97,333.34 L550.15,333.35 L550.33,333.35 L550.51,333.35 L550.70,333.36 L550.88,333.36 L551.06,333.37 L551.24,333.38 L551.42,333.38 L551.60,333.39 L551.78,333.39 L551.96,333.40 L552.14,333.41 L552.32,333.41 L552.51,333.42 L552.69,333.42 L552.87,333.43 L553.05,333.43 L553.23,333.44 L553.41,333.44 L553.59,333.44 L553.77,333.45 L553.95,333.45 L554.13,333.45 L554.32,333.45 L554.50,333.45 L554.68,333.45 L554.86,333.45 L555.04,333.45 L555.22,333.44 L555.40,333.44 L555.58,333.44 L555.76,333.43 L555.94,333.43 L556.13,333.43 L556.31,333.42 L556.49,333.42 L556.67,333.41 L556.85,333.41 L557.03,333.41 L557.21,333.40 L557.39,333.40 L557.57,333.39 L557.75,333.39 L557.94,333.39 L558.12,333.38 L558.30,333.38 L558.48,333.38 L558.66,333.38 L558.84,333.38 L559.02,333.38 L559.20,333.38 L559.38,333.38 L559.56,333.38 L559.75,333.38 L559.93,333.39 L560.11,333.39 L560.29,333.39 L560.47,333.39 L560.65,333.40 L560.83,333.40 L561.01,333.41 L561.19,333.41 L561.37,333.41 L561.56,333.42 L561.74,333.42 L561.92,333.43 L562.10,333.43 L562.28,333.43 L562.46,333.44 L562.64,333.44 L562.82,333.44 L563.00,333.44 L563.18,333.45 L563.37,333.45 L563.55,333.45 L563.73,333.45 L563.91,333.45 L564.09,333.45 L564.27,333.45 L564.45,333.45 L564.63,333.45 L564.81,333.45 L564.99,333.44 L565.18,333.44 L565.36,333.44 L565.54,333.44 L565.72,333.43 L565.90,333.43 L566.08,333.43 L566.26,333.43 L566.44,333.42 L566.62,333.42 L566.80,333.42 L566.99,333.42 L567.17,333.41 L567.35,333.41 L567.53,333.41 L567.71,333.41 L567.89,333.41 L568.07,333.40 L568.25,333.40 L568.43,333.40 L568.61,333.40 L568.80,333.40 L568.98,333.40 L569.16,333.41 L569.34,333.41 L569.52,333.41 L569.70,333.41 L569.88,333.41 L570.06,333.41 L570.24,333.42 L570.42,333.42 L570.61,333.42 L570.79,333.42 L570.97,333.43 L571.15,333.43 L571.33,333.43 L571.51,333.43 L571.69,333.44 L571.87,333.44 L572.05,333.44 L572.23,333.44 L572.42,333.44 L572.60,333.45 L572.78,333.45 L572.96,333.45 L573.14,333.45 L573.32,333.45 L573.50,333.45 L573.68,333.45 L573.86,333.45 L574.04,333.45 L574.23,333.45 L574.41,333.45 L574.59,333.45 L574.77,333.45 L574.95,333.44 L575.13,333.44 L575.31,333.44 L575.49,333.44 L575.67,333.44 L575.85,333.43 L576.04,333.43 L576.22,333.43 L576.40,333.43 L576.58,333.43 L576.76,333.43 L576.94,333.42 L577.12,333.42 L577.30,333.42 L577.48,333.42 L577.66,333.42 L577.85,333.42 L578.03,333.42 L578.21,333.42 L578.39,333.42 L578.57,333.42 L578.75,333.42 L578.93,333.42 L579.11,333.42 L579.29,333.42 L579.47,333.42 L579.66,333.43 L579.84,333.43 L580.02,333.43 L580.20,333.43 L580.38,333.43 L580.56,333.43 L580.74,333.44 L580.92,333.44 L581.10,333.44 L581.28,333.44 L581.47,333.44 L581.65,333.44 L581.83,333.45 L582.01,333.45 L582.19,333.45 L582.37,333.45 L582.55,333.45 L582.73,333.45 L582.91,333.45 L583.09,333.45 L583.28,333.45 L583.46,333.45 L583.64,333.45 L583.82,333.45 L584.00,333.45 L584.18,333.45 L584.36,333.45 L584.54,333.45 L584.72,333.44 L584.90,333.44 L585.09,333.44 L585.27,333.44 L585.45,333.44" fill="none" stroke="#ff7f0e" stroke-width="1.35" stroke-opacity="0.85"/>
<line x1="363.4" y1="229.5" x2="380.2" y2="229.5" stroke="#1f77b4" stroke-width="1.8" stroke-dasharray="1.7 3.1"/>
<line x1="363.2" y1="250.5" x2="380.2" y2="250.5" stroke="#ff7f0e" stroke-width="1.1" stroke-opacity="0.8"/>
<text x="386.2" y="226.9" font-size="9.0" fill="#262626" stroke="#262626" stroke-width="0.12" textLength="83.2" lengthAdjust="spacingAndGlyphs">Reconstructed pulse</text>
<text x="386.2" y="236.6" font-size="9.0" fill="#262626" stroke="#262626" stroke-width="0.12" textLength="60.6" lengthAdjust="spacingAndGlyphs">FWHM=19.6 fs</text>
<text x="386.5" y="248.3" font-size="9.0" fill="#262626" stroke="#262626" stroke-width="0.12" textLength="8.6" lengthAdjust="spacingAndGlyphs">Fit</text>
<text x="386.2" y="257.8" font-size="9.0" fill="#262626" stroke="#262626" stroke-width="0.12" textLength="60.6" lengthAdjust="spacingAndGlyphs">FWHM=19.8 fs</text>
<line x1="356.6" y1="212.9" x2="597.1999999999999" y2="212.9" stroke="#999" stroke-width="1.3"/>
<line x1="357.0" y1="339.5" x2="596.8" y2="339.5" stroke="#555555" stroke-width="0.9"/>
<line x1="357.0" y1="212.9" x2="357.0" y2="339.5" stroke="#555555" stroke-width="0.9"/>
<line x1="596.8" y1="212.9" x2="596.8" y2="339.5" stroke="#7a7a7a" stroke-width="0.9"/>
<line x1="389.20" y1="339.5" x2="389.20" y2="341.8" stroke="#555555" stroke-width="0.8"/>
<text x="389.55" y="350.85" font-size="9.0" fill="#262626" stroke="#262626" stroke-width="0.12" text-anchor="middle" textLength="21.4" lengthAdjust="spacingAndGlyphs">−200</text>
<line x1="433.40" y1="339.5" x2="433.40" y2="341.8" stroke="#555555" stroke-width="0.8"/>
<text x="433.75" y="350.85" font-size="9.0" fill="#262626" stroke="#262626" stroke-width="0.12" text-anchor="middle" textLength="21.4" lengthAdjust="spacingAndGlyphs">−100</text>
<line x1="477.60" y1="339.5" x2="477.60" y2="341.8" stroke="#555555" stroke-width="0.8"/>
<text x="477.6" y="350.85" font-size="9.0" fill="#262626" stroke="#262626" stroke-width="0.12" text-anchor="middle" textLength="4.8" lengthAdjust="spacingAndGlyphs">0</text>
<line x1="521.80" y1="339.5" x2="521.80" y2="341.8" stroke="#555555" stroke-width="0.8"/>
<text x="521.8" y="350.85" font-size="9.0" fill="#262626" stroke="#262626" stroke-width="0.12" text-anchor="middle" textLength="14.8" lengthAdjust="spacingAndGlyphs">100</text>
<line x1="566.00" y1="339.5" x2="566.00" y2="341.8" stroke="#555555" stroke-width="0.8"/>
<text x="566.0" y="350.85" font-size="9.0" fill="#262626" stroke="#262626" stroke-width="0.12" text-anchor="middle" textLength="14.8" lengthAdjust="spacingAndGlyphs">200</text>
<line x1="354.8" y1="333.65" x2="357.0" y2="333.65" stroke="#555555" stroke-width="0.8"/>
<text x="351.8" y="337.35" font-size="9.3" fill="#262626" stroke="#262626" stroke-width="0.12" text-anchor="end" textLength="11.7" lengthAdjust="spacingAndGlyphs">0.0</text>
<line x1="354.8" y1="310.66" x2="357.0" y2="310.66" stroke="#555555" stroke-width="0.8"/>
<text x="351.8" y="314.36" font-size="9.3" fill="#262626" stroke="#262626" stroke-width="0.12" text-anchor="end" textLength="11.7" lengthAdjust="spacingAndGlyphs">0.2</text>
<line x1="354.8" y1="287.67" x2="357.0" y2="287.67" stroke="#555555" stroke-width="0.8"/>
<text x="351.8" y="291.37" font-size="9.3" fill="#262626" stroke="#262626" stroke-width="0.12" text-anchor="end" textLength="11.7" lengthAdjust="spacingAndGlyphs">0.4</text>
<line x1="354.8" y1="264.68" x2="357.0" y2="264.68" stroke="#555555" stroke-width="0.8"/>
<text x="351.8" y="268.38" font-size="9.3" fill="#262626" stroke="#262626" stroke-width="0.12" text-anchor="end" textLength="11.7" lengthAdjust="spacingAndGlyphs">0.6</text>
<line x1="354.8" y1="241.69" x2="357.0" y2="241.69" stroke="#555555" stroke-width="0.8"/>
<text x="351.8" y="245.39" font-size="9.3" fill="#262626" stroke="#262626" stroke-width="0.12" text-anchor="end" textLength="11.7" lengthAdjust="spacingAndGlyphs">0.8</text>
<line x1="354.8" y1="218.70" x2="357.0" y2="218.70" stroke="#555555" stroke-width="0.8"/>
<text x="351.8" y="222.4" font-size="9.3" fill="#262626" stroke="#262626" stroke-width="0.12" text-anchor="end" textLength="11.7" lengthAdjust="spacingAndGlyphs">1.0</text>
<text x="334.6" y="277.2" font-size="8.9" fill="#262626" stroke="#262626" stroke-width="0.1" text-anchor="middle" textLength="83" lengthAdjust="spacingAndGlyphs" transform="rotate(-90 334.6 277.2)">Normalized intensity</text>
<text x="476.9" y="360.8" font-size="9.0" fill="#262626" stroke="#262626" stroke-width="0.12" text-anchor="middle" textLength="36.6" lengthAdjust="spacingAndGlyphs">Time [fs]</text>
<text x="479.6" y="205.6" font-size="10.0" fill="#000" stroke="#000" stroke-width="0.12" text-anchor="middle" textLength="80.6" lengthAdjust="spacingAndGlyphs">Temporal intensity</text>
<text x="321.9" y="217.1" font-size="14.7" fill="#000" stroke="#000" stroke-width="0.12">(d)</text>
<g transform="translate(608.1 79.85)" fill="none" stroke="#222" stroke-linecap="round" stroke-linejoin="round"><path d="M0.1,-10.3 C0.7,-10.9 1.7,-10.9 2.2,-10.0 L7.0,-0.5 C7.2,-0.1 7.5,0 7.8,-0.15" stroke-width="1.1"/><path d="M3.7,-6.8 L0.2,-0.1" stroke-width="0.9"/><path d="M10.9,-5.65 H20.0 M10.9,-3.25 H20.0" stroke="#3a3a3a" stroke-width="0.8" stroke-linecap="butt"/></g>
<text x="630.5" y="79.85" font-size="14.4" fill="#111">1.75</text>
<g transform="translate(662.3 79.85)" fill="none" stroke="#222" stroke-linecap="round" stroke-linejoin="round"><path d="M3.3,-6.7 L0.1,3.4" stroke-width="1.1"/><path d="M1.8,-1.5 C2.2,0.5 5.6,0.6 7.4,-3.2" stroke-width="0.9"/><path d="M8.1,-6.7 L7.25,-1.4 C7.1,-0.1 8.7,0.3 10.1,-1.5" stroke-width="1.1"/></g>
<text x="673.0" y="79.85" font-size="14.4" fill="#111">m</text>
<g transform="translate(611.9 279.6)" fill="none" stroke="#222" stroke-linecap="round" stroke-linejoin="round"><path d="M0.1,-10.3 C0.7,-10.9 1.7,-10.9 2.2,-10.0 L7.0,-0.5 C7.2,-0.1 7.5,0 7.8,-0.15" stroke-width="1.1"/><path d="M3.7,-6.8 L0.2,-0.1" stroke-width="0.9"/><path d="M10.9,-5.65 H20.0 M10.9,-3.25 H20.0" stroke="#3a3a3a" stroke-width="0.8" stroke-linecap="butt"/></g>
<text x="632.9" y="279.6" font-size="14.4" fill="#111">2.1</text>
<g transform="translate(658.1 279.6)" fill="none" stroke="#222" stroke-linecap="round" stroke-linejoin="round"><path d="M3.3,-6.7 L0.1,3.4" stroke-width="1.1"/><path d="M1.8,-1.5 C2.2,0.5 5.6,0.6 7.4,-3.2" stroke-width="0.9"/><path d="M8.1,-6.7 L7.25,-1.4 C7.1,-0.1 8.7,0.3 10.1,-1.5" stroke-width="1.1"/></g>
<text x="668.0" y="279.6" font-size="14.4" fill="#111">m</text>
</svg>
</body></html>
